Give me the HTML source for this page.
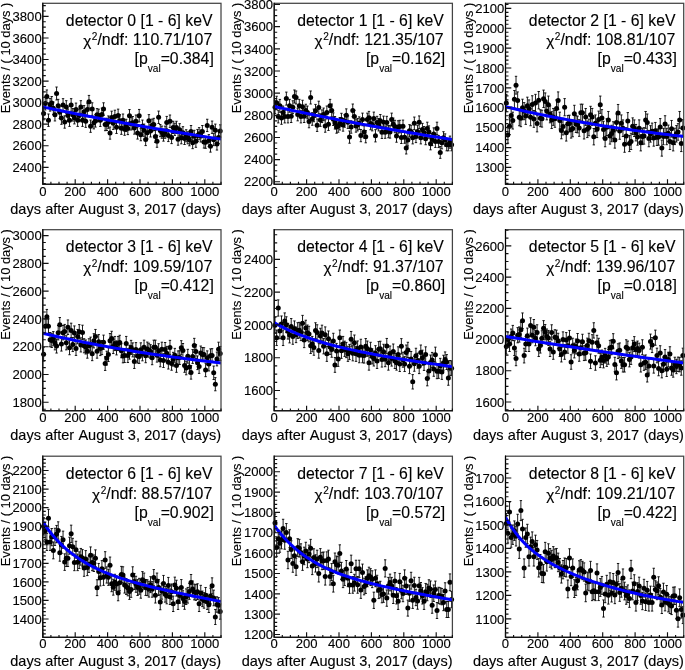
<!DOCTYPE html>
<html><head><meta charset="utf-8"><title>detector fits</title>
<style>html,body{margin:0;padding:0;background:#fff}svg{display:block}text{font-family:"Liberation Sans",sans-serif;fill:#000;stroke:#000;stroke-width:0.12px;font-kerning:none}</style></head><body>
<svg width="685" height="670" viewBox="0 0 685 670">
<rect width="685" height="670" fill="#fff"/>
<g id="panel0">
<path d="M43.61 107.33V119.87M42.41 107.33h2.4M42.41 119.87h2.4M45.23 97.23V109.97M44.03 97.23h2.4M44.03 109.97h2.4M46.85 89.96V102.84M45.65 89.96h2.4M45.65 102.84h2.4M48.47 114V126.4M47.27 114h2.4M47.27 126.4h2.4M50.09 98.38V111.1M48.89 98.38h2.4M48.89 111.1h2.4M51.71 96.53V109.27M50.51 96.53h2.4M50.51 109.27h2.4M53.33 101.99V114.63M52.13 101.99h2.4M52.13 114.63h2.4M54.95 108.44V120.96M53.75 108.44h2.4M53.75 120.96h2.4M56.57 87.03V99.97M55.37 87.03h2.4M55.37 99.97h2.4M58.19 99.35V112.05M56.99 99.35h2.4M56.99 112.05h2.4M59.81 105.95V118.51M58.61 105.95h2.4M58.61 118.51h2.4M61.43 111.88V124.32M60.23 111.88h2.4M60.23 124.32h2.4M63.05 98.65V111.35M61.85 98.65h2.4M61.85 111.35h2.4M64.67 115.82V128.18M63.47 115.82h2.4M63.47 128.18h2.4M66.29 100.67V113.33M65.09 100.67h2.4M65.09 113.33h2.4M67.91 109.15V121.65M66.71 109.15h2.4M66.71 121.65h2.4M69.53 114V126.4M68.33 114h2.4M68.33 126.4h2.4M71.15 98.65V111.35M69.95 98.65h2.4M69.95 111.35h2.4M72.77 108.54V121.05M71.57 108.54h2.4M71.57 121.05h2.4M74.39 111.46V123.91M73.19 111.46h2.4M73.19 123.91h2.4M76.01 103.09V115.71M74.81 103.09h2.4M74.81 115.71h2.4M77.63 114V126.4M76.43 114h2.4M76.43 126.4h2.4M79.25 109.14V121.63M78.05 109.14h2.4M78.05 121.63h2.4M80.87 100.67V113.33M79.67 100.67h2.4M79.67 113.33h2.4M82.49 114V126.4M81.29 114h2.4M81.29 126.4h2.4M84.11 105.59V118.16M82.91 105.59h2.4M82.91 118.16h2.4M85.73 115.01V127.39M84.53 115.01h2.4M84.53 127.39h2.4M87.35 103.09V115.71M86.15 103.09h2.4M86.15 115.71h2.4M88.97 95.42V108.18M87.77 95.42h2.4M87.77 108.18h2.4M90.59 120.06V132.34M89.39 120.06h2.4M89.39 132.34h2.4M92.21 102.79V115.41M91.01 102.79h2.4M91.01 115.41h2.4M93.83 116.53V128.88M92.63 116.53h2.4M92.63 128.88h2.4M95.45 114.71V127.09M94.25 114.71h2.4M94.25 127.09h2.4M97.07 108.61V121.12M95.87 108.61h2.4M95.87 121.12h2.4M98.69 109.17V121.67M97.49 109.17h2.4M97.49 121.67h2.4M100.31 114.05V126.45M99.11 114.05h2.4M99.11 126.45h2.4M101.93 108.14V120.66M100.73 108.14h2.4M100.73 120.66h2.4M103.55 102.79V115.41M102.35 102.79h2.4M102.35 115.41h2.4M105.17 118.38V130.69M103.97 118.38h2.4M103.97 130.69h2.4M106.79 118.22V130.53M105.59 118.22h2.4M105.59 130.53h2.4M108.41 115.93V128.29M107.21 115.93h2.4M107.21 128.29h2.4M110.03 127.03V139.17M108.83 127.03h2.4M108.83 139.17h2.4M111.65 111.17V123.63M110.45 111.17h2.4M110.45 123.63h2.4M113.27 117.1V129.44M112.07 117.1h2.4M112.07 129.44h2.4M114.89 110.21V122.69M113.69 110.21h2.4M113.69 122.69h2.4M116.51 121.19V133.45M115.31 121.19h2.4M115.31 133.45h2.4M118.13 109.15V121.65M116.93 109.15h2.4M116.93 121.65h2.4M119.75 114.67V127.05M118.55 114.67h2.4M118.55 127.05h2.4M121.37 122.09V134.33M120.17 122.09h2.4M120.17 134.33h2.4M122.99 114V126.4M121.79 114h2.4M121.79 126.4h2.4M124.61 123.09V135.31M123.41 123.09h2.4M123.41 135.31h2.4M126.23 119.27V131.56M125.03 119.27h2.4M125.03 131.56h2.4M127.85 122.38V134.62M126.65 122.38h2.4M126.65 134.62h2.4M129.47 109.55V122.05M128.27 109.55h2.4M128.27 122.05h2.4M131.09 117.69V130.01M129.89 117.69h2.4M129.89 130.01h2.4M132.71 116.49V128.84M131.51 116.49h2.4M131.51 128.84h2.4M134.33 121.91V134.15M133.13 121.91h2.4M133.13 134.15h2.4M135.95 115.01V127.39M134.75 115.01h2.4M134.75 127.39h2.4M137.57 126.93V139.07M136.37 126.93h2.4M136.37 139.07h2.4M139.19 109.45V121.95M137.99 109.45h2.4M137.99 121.95h2.4M140.81 128.65V140.75M139.61 128.65h2.4M139.61 140.75h2.4M142.43 120.07V132.35M141.23 120.07h2.4M141.23 132.35h2.4M144.05 124.1V136.3M142.85 124.1h2.4M142.85 136.3h2.4M145.67 133.6V145.6M144.47 133.6h2.4M144.47 145.6h2.4M147.29 126.73V138.88M146.09 126.73h2.4M146.09 138.88h2.4M148.91 114.61V126.99M147.71 114.61h2.4M147.71 126.99h2.4M150.53 124.81V136.99M149.33 124.81h2.4M149.33 136.99h2.4M152.15 119.11V131.41M150.95 119.11h2.4M150.95 131.41h2.4M153.77 118.31V130.63M152.57 118.31h2.4M152.57 130.63h2.4M155.39 130.47V142.53M154.19 130.47h2.4M154.19 142.53h2.4M157.01 135.32V147.28M155.81 135.32h2.4M155.81 147.28h2.4M158.63 111.07V123.53M157.43 111.07h2.4M157.43 123.53h2.4M160.25 124.49V136.68M159.05 124.49h2.4M159.05 136.68h2.4M161.87 126.09V138.25M160.67 126.09h2.4M160.67 138.25h2.4M163.49 129.05V141.15M162.29 129.05h2.4M162.29 141.15h2.4M165.11 126.13V138.29M163.91 126.13h2.4M163.91 138.29h2.4M166.73 116.42V128.78M165.53 116.42h2.4M165.53 128.78h2.4M168.35 129.48V141.57M167.15 129.48h2.4M167.15 141.57h2.4M169.97 115.01V127.39M168.77 115.01h2.4M168.77 127.39h2.4M171.59 131.58V143.62M170.39 131.58h2.4M170.39 143.62h2.4M173.21 121.27V133.53M172.01 121.27h2.4M172.01 133.53h2.4M174.83 123.19V135.41M173.63 123.19h2.4M173.63 135.41h2.4M176.45 121.27V133.53M175.25 121.27h2.4M175.25 133.53h2.4M178.07 133.2V145.2M176.87 133.2h2.4M176.87 145.2h2.4M179.69 123.67V135.87M178.49 123.67h2.4M178.49 135.87h2.4M181.31 131.78V143.82M180.11 131.78h2.4M180.11 143.82h2.4M182.93 126.68V138.82M181.73 126.68h2.4M181.73 138.82h2.4M184.55 132.49V144.51M183.35 132.49h2.4M183.35 144.51h2.4M186.17 129.74V141.83M184.97 129.74h2.4M184.97 141.83h2.4M187.79 131.78V143.82M186.59 131.78h2.4M186.59 143.82h2.4M189.41 133.81V145.8M188.21 133.81h2.4M188.21 145.8h2.4M191.03 125.52V137.68M189.83 125.52h2.4M189.83 137.68h2.4M192.65 136.73V148.67M191.45 136.73h2.4M191.45 148.67h2.4M194.27 130.31V142.38M193.07 130.31h2.4M193.07 142.38h2.4M195.89 135.32V147.28M194.69 135.32h2.4M194.69 147.28h2.4M197.51 129.44V141.52M196.31 129.44h2.4M196.31 141.52h2.4M199.13 127.64V139.76M197.93 127.64h2.4M197.93 139.76h2.4M200.75 129.95V142.03M199.55 129.95h2.4M199.55 142.03h2.4M202.37 125.52V137.68M201.17 125.52h2.4M201.17 137.68h2.4M203.99 136.13V148.07M202.79 136.13h2.4M202.79 148.07h2.4M205.61 136.38V148.32M204.41 136.38h2.4M204.41 148.32h2.4M207.23 119.25V131.55M206.03 119.25h2.4M206.03 131.55h2.4M208.85 134.61V146.59M207.65 134.61h2.4M207.65 146.59h2.4M210.47 140.27V152.13M209.27 140.27h2.4M209.27 152.13h2.4M212.09 121.07V133.33M210.89 121.07h2.4M210.89 133.33h2.4M213.71 133.65V145.65M212.51 133.65h2.4M212.51 145.65h2.4M215.33 124.1V136.3M214.13 124.1h2.4M214.13 136.3h2.4M216.95 138.15V150.05M215.75 138.15h2.4M215.75 150.05h2.4M218.57 131.6V143.64M217.37 131.6h2.4M217.37 143.64h2.4M220.19 124.81V136.99M218.99 124.81h2.4M218.99 136.99h2.4" stroke="#000" stroke-width="0.9" fill="none"/>
<g fill="#000"><circle cx="43.61" cy="113.6" r="2.5"/><circle cx="45.23" cy="103.6" r="2.5"/><circle cx="46.85" cy="96.4" r="2.5"/><circle cx="48.47" cy="120.2" r="2.5"/><circle cx="50.09" cy="104.74" r="2.5"/><circle cx="51.71" cy="102.9" r="2.5"/><circle cx="53.33" cy="108.31" r="2.5"/><circle cx="54.95" cy="114.7" r="2.5"/><circle cx="56.57" cy="93.5" r="2.5"/><circle cx="58.19" cy="105.7" r="2.5"/><circle cx="59.81" cy="112.23" r="2.5"/><circle cx="61.43" cy="118.1" r="2.5"/><circle cx="63.05" cy="105" r="2.5"/><circle cx="64.67" cy="122" r="2.5"/><circle cx="66.29" cy="107" r="2.5"/><circle cx="67.91" cy="115.4" r="2.5"/><circle cx="69.53" cy="120.2" r="2.5"/><circle cx="71.15" cy="105" r="2.5"/><circle cx="72.77" cy="114.79" r="2.5"/><circle cx="74.39" cy="117.68" r="2.5"/><circle cx="76.01" cy="109.4" r="2.5"/><circle cx="77.63" cy="120.2" r="2.5"/><circle cx="79.25" cy="115.39" r="2.5"/><circle cx="80.87" cy="107" r="2.5"/><circle cx="82.49" cy="120.2" r="2.5"/><circle cx="84.11" cy="111.87" r="2.5"/><circle cx="85.73" cy="121.2" r="2.5"/><circle cx="87.35" cy="109.4" r="2.5"/><circle cx="88.97" cy="101.8" r="2.5"/><circle cx="90.59" cy="126.2" r="2.5"/><circle cx="92.21" cy="109.1" r="2.5"/><circle cx="93.83" cy="122.71" r="2.5"/><circle cx="95.45" cy="120.9" r="2.5"/><circle cx="97.07" cy="114.86" r="2.5"/><circle cx="98.69" cy="115.42" r="2.5"/><circle cx="100.31" cy="120.25" r="2.5"/><circle cx="101.93" cy="114.4" r="2.5"/><circle cx="103.55" cy="109.1" r="2.5"/><circle cx="105.17" cy="124.53" r="2.5"/><circle cx="106.79" cy="124.38" r="2.5"/><circle cx="108.41" cy="122.11" r="2.5"/><circle cx="110.03" cy="133.1" r="2.5"/><circle cx="111.65" cy="117.4" r="2.5"/><circle cx="113.27" cy="123.27" r="2.5"/><circle cx="114.89" cy="116.45" r="2.5"/><circle cx="116.51" cy="127.32" r="2.5"/><circle cx="118.13" cy="115.4" r="2.5"/><circle cx="119.75" cy="120.86" r="2.5"/><circle cx="121.37" cy="128.21" r="2.5"/><circle cx="122.99" cy="120.2" r="2.5"/><circle cx="124.61" cy="129.2" r="2.5"/><circle cx="126.23" cy="125.42" r="2.5"/><circle cx="127.85" cy="128.5" r="2.5"/><circle cx="129.47" cy="115.8" r="2.5"/><circle cx="131.09" cy="123.85" r="2.5"/><circle cx="132.71" cy="122.66" r="2.5"/><circle cx="134.33" cy="128.03" r="2.5"/><circle cx="135.95" cy="121.2" r="2.5"/><circle cx="137.57" cy="133" r="2.5"/><circle cx="139.19" cy="115.7" r="2.5"/><circle cx="140.81" cy="134.7" r="2.5"/><circle cx="142.43" cy="126.21" r="2.5"/><circle cx="144.05" cy="130.2" r="2.5"/><circle cx="145.67" cy="139.6" r="2.5"/><circle cx="147.29" cy="132.8" r="2.5"/><circle cx="148.91" cy="120.8" r="2.5"/><circle cx="150.53" cy="130.9" r="2.5"/><circle cx="152.15" cy="125.26" r="2.5"/><circle cx="153.77" cy="124.47" r="2.5"/><circle cx="155.39" cy="136.5" r="2.5"/><circle cx="157.01" cy="141.3" r="2.5"/><circle cx="158.63" cy="117.3" r="2.5"/><circle cx="160.25" cy="130.58" r="2.5"/><circle cx="161.87" cy="132.17" r="2.5"/><circle cx="163.49" cy="135.1" r="2.5"/><circle cx="165.11" cy="132.21" r="2.5"/><circle cx="166.73" cy="122.6" r="2.5"/><circle cx="168.35" cy="135.53" r="2.5"/><circle cx="169.97" cy="121.2" r="2.5"/><circle cx="171.59" cy="137.6" r="2.5"/><circle cx="173.21" cy="127.4" r="2.5"/><circle cx="174.83" cy="129.3" r="2.5"/><circle cx="176.45" cy="127.4" r="2.5"/><circle cx="178.07" cy="139.2" r="2.5"/><circle cx="179.69" cy="129.77" r="2.5"/><circle cx="181.31" cy="137.8" r="2.5"/><circle cx="182.93" cy="132.75" r="2.5"/><circle cx="184.55" cy="138.5" r="2.5"/><circle cx="186.17" cy="135.78" r="2.5"/><circle cx="187.79" cy="137.8" r="2.5"/><circle cx="189.41" cy="139.81" r="2.5"/><circle cx="191.03" cy="131.6" r="2.5"/><circle cx="192.65" cy="142.7" r="2.5"/><circle cx="194.27" cy="136.35" r="2.5"/><circle cx="195.89" cy="141.3" r="2.5"/><circle cx="197.51" cy="135.48" r="2.5"/><circle cx="199.13" cy="133.7" r="2.5"/><circle cx="200.75" cy="135.99" r="2.5"/><circle cx="202.37" cy="131.6" r="2.5"/><circle cx="203.99" cy="142.1" r="2.5"/><circle cx="205.61" cy="142.35" r="2.5"/><circle cx="207.23" cy="125.4" r="2.5"/><circle cx="208.85" cy="140.6" r="2.5"/><circle cx="210.47" cy="146.2" r="2.5"/><circle cx="212.09" cy="127.2" r="2.5"/><circle cx="213.71" cy="139.65" r="2.5"/><circle cx="215.33" cy="130.2" r="2.5"/><circle cx="216.95" cy="144.1" r="2.5"/><circle cx="218.57" cy="137.62" r="2.5"/><circle cx="220.19" cy="130.9" r="2.5"/></g>
<clipPath id="c0"><rect x="42.8" y="3.3" width="178.2" height="180.9"/></clipPath>
<polyline clip-path="url(#c0)" points="42.8,106.93 46.04,107.62 49.28,108.3 52.52,108.98 55.76,109.66 59,110.33 62.24,111 65.48,111.66 68.72,112.32 71.96,112.98 75.2,113.63 78.44,114.28 81.68,114.92 84.92,115.56 88.16,116.19 91.4,116.83 94.64,117.45 97.88,118.08 101.12,118.7 104.36,119.31 107.6,119.93 110.84,120.53 114.08,121.14 117.32,121.74 120.56,122.34 123.8,122.93 127.04,123.52 130.28,124.11 133.52,124.69 136.76,125.27 140,125.85 143.24,126.42 146.48,126.99 149.72,127.55 152.96,128.11 156.2,128.67 159.44,129.23 162.68,129.78 165.92,130.32 169.16,130.87 172.4,131.41 175.64,131.95 178.88,132.48 182.12,133.01 185.36,133.54 188.6,134.07 191.84,134.59 195.08,135.11 198.32,135.62 201.56,136.13 204.8,136.64 208.04,137.15 211.28,137.65 214.52,138.15 217.76,138.64 221,139.14" fill="none" stroke="#0000ff" stroke-width="3.0"/>
<rect x="42.8" y="3.3" width="178.2" height="180.9" fill="none" stroke="#444" stroke-width="1.25"/>
<path d="M42.8 2.7V184.2M42.2 184.2H221.6" fill="none" stroke="#000" stroke-width="1.1"/>
<path d="M42.8 5.62h3.0M42.8 11.01h3.0M42.8 16.4h5.8M42.8 21.79h3.0M42.8 27.18h3.0M42.8 32.57h3.0M42.8 37.96h5.8M42.8 43.35h3.0M42.8 48.74h3.0M42.8 54.13h3.0M42.8 59.52h5.8M42.8 64.91h3.0M42.8 70.29h3.0M42.8 75.68h3.0M42.8 81.07h5.8M42.8 86.46h3.0M42.8 91.85h3.0M42.8 97.24h3.0M42.8 102.63h5.8M42.8 108.02h3.0M42.8 113.41h3.0M42.8 118.8h3.0M42.8 124.19h5.8M42.8 129.58h3.0M42.8 134.97h3.0M42.8 140.36h3.0M42.8 145.75h5.8M42.8 151.14h3.0M42.8 156.53h3.0M42.8 161.92h3.0M42.8 167.31h5.8M42.8 172.7h3.0M42.8 178.09h3.0M42.8 183.47h3.0M42.8 184.2v-5.0M50.9 184.2v-2.4M59 184.2v-2.4M67.1 184.2v-2.4M75.2 184.2v-5.0M83.3 184.2v-2.4M91.4 184.2v-2.4M99.5 184.2v-2.4M107.6 184.2v-5.0M115.7 184.2v-2.4M123.8 184.2v-2.4M131.9 184.2v-2.4M140 184.2v-5.0M148.1 184.2v-2.4M156.2 184.2v-2.4M164.3 184.2v-2.4M172.4 184.2v-5.0M180.5 184.2v-2.4M188.6 184.2v-2.4M196.7 184.2v-2.4M204.8 184.2v-5.0M212.9 184.2v-2.4M221 184.2v-2.4" stroke="#111" stroke-width="1.15" fill="none"/>
<g font-size="13.1" text-anchor="end">
<text x="41.7" y="21.1">3800</text>
<text x="41.7" y="42.66">3600</text>
<text x="41.7" y="64.22">3400</text>
<text x="41.7" y="85.77">3200</text>
<text x="41.7" y="107.33">3000</text>
<text x="41.7" y="128.89">2800</text>
<text x="41.7" y="150.45">2600</text>
<text x="41.7" y="172.01">2400</text>
</g>
<g font-size="13.1" text-anchor="middle">
<text x="42.8" y="196.05">0</text>
<text x="75.2" y="196.05">200</text>
<text x="107.6" y="196.05">400</text>
<text x="140" y="196.05">600</text>
<text x="172.4" y="196.05">800</text>
<text x="204.8" y="196.05">1000</text>
</g>
<text transform="translate(221.1 213.6) scale(1.046 1)" font-size="13.9" word-spacing="0.15" text-anchor="end">days after August 3, 2017 (days)</text>
<text transform="translate(9.9 2.7) rotate(-90)" font-size="12.85" text-anchor="end">Events / ( 10 days )</text>
<text x="212.5" y="25.6" font-size="15.8" text-anchor="end">detector 0 [1 - 6] keV</text>
<text x="212.3" y="44.9" font-size="15.9" text-anchor="end">/ndf: 110.71/107</text>
<text x="97.47" y="40" font-size="10.1" text-anchor="end">2</text>
<text transform="translate(91.27 46.3) scale(1.1 1)" font-size="14" text-anchor="end">χ</text>
<text x="213.8" y="63.8" font-size="15.8" text-anchor="end">=0.384]</text>
<text x="160.65" y="71.8" font-size="10.1" text-anchor="end">val</text>
<text x="147.74" y="63.8" font-size="15.8" text-anchor="end">[p</text>
</g>
<g id="panel1">
<path d="M275.01 100.79V113.61M273.81 100.79h2.4M273.81 113.61h2.4M276.63 96.24V109.16M275.43 96.24h2.4M275.43 109.16h2.4M278.25 110.28V122.92M277.05 110.28h2.4M277.05 122.92h2.4M279.87 99.4V112.25M278.67 99.4h2.4M278.67 112.25h2.4M281.49 111.7V124.3M280.29 111.7h2.4M280.29 124.3h2.4M283.11 106.04V118.76M281.91 106.04h2.4M281.91 118.76h2.4M284.73 110.28V122.92M283.53 110.28h2.4M283.53 122.92h2.4M286.35 92.1V105.1M285.15 92.1h2.4M285.15 105.1h2.4M287.97 110.28V122.92M286.77 110.28h2.4M286.77 122.92h2.4M289.59 99.37V112.23M288.39 99.37h2.4M288.39 112.23h2.4M291.21 109.88V122.52M290.01 109.88h2.4M290.01 122.52h2.4M292.83 100.79V113.61M291.63 100.79h2.4M291.63 113.61h2.4M294.45 89.98V103.02M293.25 89.98h2.4M293.25 103.02h2.4M296.07 90.99V104.01M294.87 90.99h2.4M294.87 104.01h2.4M297.69 108.16V120.84M296.49 108.16h2.4M296.49 120.84h2.4M299.31 99.37V112.23M298.11 99.37h2.4M298.11 112.23h2.4M300.93 110.28V122.92M299.73 110.28h2.4M299.73 122.92h2.4M302.55 100.26V113.09M301.35 100.26h2.4M301.35 113.09h2.4M304.17 109.88V122.52M302.97 109.88h2.4M302.97 122.52h2.4M305.79 104.24V117M304.59 104.24h2.4M304.59 117h2.4M307.41 106.05V118.77M306.21 106.05h2.4M306.21 118.77h2.4M309.03 115.23V127.77M307.83 115.23h2.4M307.83 127.77h2.4M310.65 90.99V104.01M309.45 90.99h2.4M309.45 104.01h2.4M312.27 112.68V125.27M311.07 112.68h2.4M311.07 125.27h2.4M313.89 109.07V121.73M312.69 109.07h2.4M312.69 121.73h2.4M315.51 104.42V117.18M314.31 104.42h2.4M314.31 117.18h2.4M317.13 118.97V131.43M315.93 118.97h2.4M315.93 131.43h2.4M318.75 101.19V114.01M317.55 101.19h2.4M317.55 114.01h2.4M320.37 113.82V126.38M319.17 113.82h2.4M319.17 126.38h2.4M321.99 109.91V122.56M320.79 109.91h2.4M320.79 122.56h2.4M323.61 108.07V120.75M322.41 108.07h2.4M322.41 120.75h2.4M325.23 119.78V132.22M324.03 119.78h2.4M324.03 132.22h2.4M326.85 106.04V118.76M325.65 106.04h2.4M325.65 118.76h2.4M328.47 117.96V130.44M327.27 117.96h2.4M327.27 130.44h2.4M330.09 99.37V112.23M328.89 99.37h2.4M328.89 112.23h2.4M331.71 104.02V116.78M330.51 104.02h2.4M330.51 116.78h2.4M333.33 112.9V125.49M332.13 112.9h2.4M332.13 125.49h2.4M334.95 116.54V129.06M333.75 116.54h2.4M333.75 129.06h2.4M336.57 120.79V133.21M335.37 120.79h2.4M335.37 133.21h2.4M338.19 119.78V132.22M336.99 119.78h2.4M336.99 132.22h2.4M339.81 117.52V130.01M338.61 117.52h2.4M338.61 130.01h2.4M341.43 113.29V125.86M340.23 113.29h2.4M340.23 125.86h2.4M343.05 118.69V131.16M341.85 118.69h2.4M341.85 131.16h2.4M344.67 114.67V127.21M343.47 114.67h2.4M343.47 127.21h2.4M346.29 108.87V121.53M345.09 108.87h2.4M345.09 121.53h2.4M347.91 115.89V128.41M346.71 115.89h2.4M346.71 128.41h2.4M349.53 130.99V143.21M348.33 130.99h2.4M348.33 143.21h2.4M351.15 120.79V133.21M349.95 120.79h2.4M349.95 133.21h2.4M352.77 104.02V116.78M351.57 104.02h2.4M351.57 116.78h2.4M354.39 110.28V122.92M353.19 110.28h2.4M353.19 122.92h2.4M356.01 119.71V132.15M354.81 119.71h2.4M354.81 132.15h2.4M357.63 118.46V130.93M356.43 118.46h2.4M356.43 130.93h2.4M359.25 116.89V129.39M358.05 116.89h2.4M358.05 129.39h2.4M360.87 129.48V141.72M359.67 129.48h2.4M359.67 141.72h2.4M362.49 113.11V125.69M361.29 113.11h2.4M361.29 125.69h2.4M364.11 125.74V138.06M362.91 125.74h2.4M362.91 138.06h2.4M365.73 130.59V142.81M364.53 130.59h2.4M364.53 142.81h2.4M367.35 113.13V125.71M366.15 113.13h2.4M366.15 125.71h2.4M368.97 111.39V124.01M367.77 111.39h2.4M367.77 124.01h2.4M370.59 117.24V129.74M369.39 117.24h2.4M369.39 129.74h2.4M372.21 118.39V130.86M371.01 118.39h2.4M371.01 130.86h2.4M373.83 112.1V124.7M372.63 112.1h2.4M372.63 124.7h2.4M375.45 129.68V141.92M374.25 129.68h2.4M374.25 141.92h2.4M377.07 116.34V128.86M375.87 116.34h2.4M375.87 128.86h2.4M378.69 118.46V130.93M377.49 118.46h2.4M377.49 130.93h2.4M380.31 114.52V127.08M379.11 114.52h2.4M379.11 127.08h2.4M381.93 126.14V138.46M380.73 126.14h2.4M380.73 138.46h2.4M383.55 116.11V128.63M382.35 116.11h2.4M382.35 128.63h2.4M385.17 125.99V138.3M383.97 125.99h2.4M383.97 138.3h2.4M386.79 116.34V128.86M385.59 116.34h2.4M385.59 128.86h2.4M388.41 125.44V137.76M387.21 125.44h2.4M387.21 137.76h2.4M390.03 125.82V138.14M388.83 125.82h2.4M388.83 138.14h2.4M391.65 113.11V125.69M390.45 113.11h2.4M390.45 125.69h2.4M393.27 118.07V130.54M392.07 118.07h2.4M392.07 130.54h2.4M394.89 120.31V132.74M393.69 120.31h2.4M393.69 132.74h2.4M396.51 129.99V142.22M395.31 129.99h2.4M395.31 142.22h2.4M398.13 120.77V133.19M396.93 120.77h2.4M396.93 133.19h2.4M399.75 120.3V132.73M398.55 120.3h2.4M398.55 132.73h2.4M401.37 131.3V143.5M400.17 131.3h2.4M400.17 143.5h2.4M402.99 120.08V132.52M401.79 120.08h2.4M401.79 132.52h2.4M404.61 131.12V143.32M403.41 131.12h2.4M403.41 143.32h2.4M406.23 142.01V153.99M405.03 142.01h2.4M405.03 153.99h2.4M407.85 133.82V145.98M406.65 133.82h2.4M406.65 145.98h2.4M409.47 124.63V136.98M408.27 124.63h2.4M408.27 136.98h2.4M411.09 125.26V137.59M409.89 125.26h2.4M409.89 137.59h2.4M412.71 131.7V143.9M411.51 131.7h2.4M411.51 143.9h2.4M414.33 117.05V129.55M413.13 117.05h2.4M413.13 129.55h2.4M415.95 130.39V142.61M414.75 130.39h2.4M414.75 142.61h2.4M417.57 125.34V137.67M416.37 125.34h2.4M416.37 137.67h2.4M419.19 115.94V128.46M417.99 115.94h2.4M417.99 128.46h2.4M420.81 131.7V143.9M419.61 131.7h2.4M419.61 143.9h2.4M422.43 123.39V135.76M421.23 123.39h2.4M421.23 135.76h2.4M424.05 126.52V138.82M422.85 126.52h2.4M422.85 138.82h2.4M425.67 132.55V144.73M424.47 132.55h2.4M424.47 144.73h2.4M427.29 122.2V134.6M426.09 122.2h2.4M426.09 134.6h2.4M428.91 125.89V138.21M427.71 125.89h2.4M427.71 138.21h2.4M430.53 137.77V149.83M429.33 137.77h2.4M429.33 149.83h2.4M432.15 133.47V145.63M430.95 133.47h2.4M430.95 145.63h2.4M433.77 127.84V140.11M432.57 127.84h2.4M432.57 140.11h2.4M435.39 135.32V147.44M434.19 135.32h2.4M434.19 147.44h2.4M437.01 122.2V134.6M435.81 122.2h2.4M435.81 134.6h2.4M438.63 135.45V147.56M437.43 135.45h2.4M437.43 147.56h2.4M440.25 146.46V158.34M439.05 146.46h2.4M439.05 158.34h2.4M441.87 136.76V148.85M440.67 136.76h2.4M440.67 148.85h2.4M443.49 131.7V143.9M442.29 131.7h2.4M442.29 143.9h2.4M445.11 133.87V146.02M443.91 133.87h2.4M443.91 146.02h2.4M446.73 138.78V150.82M445.53 138.78h2.4M445.53 150.82h2.4M448.35 138.78V150.82M447.15 138.78h2.4M447.15 150.82h2.4M449.97 136.1V148.2M448.77 136.1h2.4M448.77 148.2h2.4M451.59 138.78V150.82M450.39 138.78h2.4M450.39 150.82h2.4" stroke="#000" stroke-width="0.9" fill="none"/>
<g fill="#000"><circle cx="275.01" cy="107.2" r="2.5"/><circle cx="276.63" cy="102.7" r="2.5"/><circle cx="278.25" cy="116.6" r="2.5"/><circle cx="279.87" cy="105.83" r="2.5"/><circle cx="281.49" cy="118" r="2.5"/><circle cx="283.11" cy="112.4" r="2.5"/><circle cx="284.73" cy="116.6" r="2.5"/><circle cx="286.35" cy="98.6" r="2.5"/><circle cx="287.97" cy="116.6" r="2.5"/><circle cx="289.59" cy="105.8" r="2.5"/><circle cx="291.21" cy="116.2" r="2.5"/><circle cx="292.83" cy="107.2" r="2.5"/><circle cx="294.45" cy="96.5" r="2.5"/><circle cx="296.07" cy="97.5" r="2.5"/><circle cx="297.69" cy="114.5" r="2.5"/><circle cx="299.31" cy="105.8" r="2.5"/><circle cx="300.93" cy="116.6" r="2.5"/><circle cx="302.55" cy="106.67" r="2.5"/><circle cx="304.17" cy="116.2" r="2.5"/><circle cx="305.79" cy="110.62" r="2.5"/><circle cx="307.41" cy="112.41" r="2.5"/><circle cx="309.03" cy="121.5" r="2.5"/><circle cx="310.65" cy="97.5" r="2.5"/><circle cx="312.27" cy="118.98" r="2.5"/><circle cx="313.89" cy="115.4" r="2.5"/><circle cx="315.51" cy="110.8" r="2.5"/><circle cx="317.13" cy="125.2" r="2.5"/><circle cx="318.75" cy="107.6" r="2.5"/><circle cx="320.37" cy="120.1" r="2.5"/><circle cx="321.99" cy="116.24" r="2.5"/><circle cx="323.61" cy="114.41" r="2.5"/><circle cx="325.23" cy="126" r="2.5"/><circle cx="326.85" cy="112.4" r="2.5"/><circle cx="328.47" cy="124.2" r="2.5"/><circle cx="330.09" cy="105.8" r="2.5"/><circle cx="331.71" cy="110.4" r="2.5"/><circle cx="333.33" cy="119.19" r="2.5"/><circle cx="334.95" cy="122.8" r="2.5"/><circle cx="336.57" cy="127" r="2.5"/><circle cx="338.19" cy="126" r="2.5"/><circle cx="339.81" cy="123.76" r="2.5"/><circle cx="341.43" cy="119.58" r="2.5"/><circle cx="343.05" cy="124.93" r="2.5"/><circle cx="344.67" cy="120.94" r="2.5"/><circle cx="346.29" cy="115.2" r="2.5"/><circle cx="347.91" cy="122.15" r="2.5"/><circle cx="349.53" cy="137.1" r="2.5"/><circle cx="351.15" cy="127" r="2.5"/><circle cx="352.77" cy="110.4" r="2.5"/><circle cx="354.39" cy="116.6" r="2.5"/><circle cx="356.01" cy="125.93" r="2.5"/><circle cx="357.63" cy="124.69" r="2.5"/><circle cx="359.25" cy="123.14" r="2.5"/><circle cx="360.87" cy="135.6" r="2.5"/><circle cx="362.49" cy="119.4" r="2.5"/><circle cx="364.11" cy="131.9" r="2.5"/><circle cx="365.73" cy="136.7" r="2.5"/><circle cx="367.35" cy="119.42" r="2.5"/><circle cx="368.97" cy="117.7" r="2.5"/><circle cx="370.59" cy="123.49" r="2.5"/><circle cx="372.21" cy="124.63" r="2.5"/><circle cx="373.83" cy="118.4" r="2.5"/><circle cx="375.45" cy="135.8" r="2.5"/><circle cx="377.07" cy="122.6" r="2.5"/><circle cx="378.69" cy="124.7" r="2.5"/><circle cx="380.31" cy="120.8" r="2.5"/><circle cx="381.93" cy="132.3" r="2.5"/><circle cx="383.55" cy="122.37" r="2.5"/><circle cx="385.17" cy="132.15" r="2.5"/><circle cx="386.79" cy="122.6" r="2.5"/><circle cx="388.41" cy="131.6" r="2.5"/><circle cx="390.03" cy="131.98" r="2.5"/><circle cx="391.65" cy="119.4" r="2.5"/><circle cx="393.27" cy="124.3" r="2.5"/><circle cx="394.89" cy="126.53" r="2.5"/><circle cx="396.51" cy="136.1" r="2.5"/><circle cx="398.13" cy="126.98" r="2.5"/><circle cx="399.75" cy="126.52" r="2.5"/><circle cx="401.37" cy="137.4" r="2.5"/><circle cx="402.99" cy="126.3" r="2.5"/><circle cx="404.61" cy="137.22" r="2.5"/><circle cx="406.23" cy="148" r="2.5"/><circle cx="407.85" cy="139.9" r="2.5"/><circle cx="409.47" cy="130.81" r="2.5"/><circle cx="411.09" cy="131.43" r="2.5"/><circle cx="412.71" cy="137.8" r="2.5"/><circle cx="414.33" cy="123.3" r="2.5"/><circle cx="415.95" cy="136.5" r="2.5"/><circle cx="417.57" cy="131.5" r="2.5"/><circle cx="419.19" cy="122.2" r="2.5"/><circle cx="420.81" cy="137.8" r="2.5"/><circle cx="422.43" cy="129.58" r="2.5"/><circle cx="424.05" cy="132.67" r="2.5"/><circle cx="425.67" cy="138.64" r="2.5"/><circle cx="427.29" cy="128.4" r="2.5"/><circle cx="428.91" cy="132.05" r="2.5"/><circle cx="430.53" cy="143.8" r="2.5"/><circle cx="432.15" cy="139.55" r="2.5"/><circle cx="433.77" cy="133.97" r="2.5"/><circle cx="435.39" cy="141.38" r="2.5"/><circle cx="437.01" cy="128.4" r="2.5"/><circle cx="438.63" cy="141.51" r="2.5"/><circle cx="440.25" cy="152.4" r="2.5"/><circle cx="441.87" cy="142.8" r="2.5"/><circle cx="443.49" cy="137.8" r="2.5"/><circle cx="445.11" cy="139.95" r="2.5"/><circle cx="446.73" cy="144.8" r="2.5"/><circle cx="448.35" cy="144.8" r="2.5"/><circle cx="449.97" cy="142.15" r="2.5"/><circle cx="451.59" cy="144.8" r="2.5"/></g>
<clipPath id="c1"><rect x="274.2" y="3.3" width="178.2" height="180.9"/></clipPath>
<polyline clip-path="url(#c1)" points="274.2,106.54 277.44,107.24 280.68,107.94 283.92,108.64 287.16,109.33 290.4,110.02 293.64,110.7 296.88,111.38 300.12,112.06 303.36,112.73 306.6,113.4 309.84,114.06 313.08,114.72 316.32,115.38 319.56,116.03 322.8,116.67 326.04,117.32 329.28,117.96 332.52,118.59 335.76,119.22 339,119.85 342.24,120.48 345.48,121.1 348.72,121.71 351.96,122.33 355.2,122.93 358.44,123.54 361.68,124.14 364.92,124.74 368.16,125.33 371.4,125.92 374.64,126.51 377.88,127.1 381.12,127.68 384.36,128.25 387.6,128.83 390.84,129.4 394.08,129.96 397.32,130.52 400.56,131.08 403.8,131.64 407.04,132.19 410.28,132.74 413.52,133.29 416.76,133.83 420,134.37 423.24,134.91 426.48,135.44 429.72,135.97 432.96,136.49 436.2,137.02 439.44,137.54 442.68,138.05 445.92,138.57 449.16,139.08 452.4,139.59" fill="none" stroke="#0000ff" stroke-width="3.0"/>
<rect x="274.2" y="3.3" width="178.2" height="180.9" fill="none" stroke="#444" stroke-width="1.25"/>
<path d="M274.2 2.7V184.2M273.6 184.2H453" fill="none" stroke="#000" stroke-width="1.1"/>
<path d="M274.2 4.5h5.8M274.2 10.04h3.0M274.2 15.58h3.0M274.2 21.12h3.0M274.2 26.66h5.8M274.2 32.2h3.0M274.2 37.74h3.0M274.2 43.28h3.0M274.2 48.82h5.8M274.2 54.36h3.0M274.2 59.9h3.0M274.2 65.44h3.0M274.2 70.98h5.8M274.2 76.52h3.0M274.2 82.06h3.0M274.2 87.6h3.0M274.2 93.14h5.8M274.2 98.68h3.0M274.2 104.22h3.0M274.2 109.76h3.0M274.2 115.3h5.8M274.2 120.84h3.0M274.2 126.38h3.0M274.2 131.92h3.0M274.2 137.46h5.8M274.2 143h3.0M274.2 148.54h3.0M274.2 154.08h3.0M274.2 159.62h5.8M274.2 165.16h3.0M274.2 170.7h3.0M274.2 176.24h3.0M274.2 181.78h5.8M274.2 184.2v-5.0M282.3 184.2v-2.4M290.4 184.2v-2.4M298.5 184.2v-2.4M306.6 184.2v-5.0M314.7 184.2v-2.4M322.8 184.2v-2.4M330.9 184.2v-2.4M339 184.2v-5.0M347.1 184.2v-2.4M355.2 184.2v-2.4M363.3 184.2v-2.4M371.4 184.2v-5.0M379.5 184.2v-2.4M387.6 184.2v-2.4M395.7 184.2v-2.4M403.8 184.2v-5.0M411.9 184.2v-2.4M420 184.2v-2.4M428.1 184.2v-2.4M436.2 184.2v-5.0M444.3 184.2v-2.4M452.4 184.2v-2.4" stroke="#111" stroke-width="1.15" fill="none"/>
<g font-size="13.1" text-anchor="end">
<text x="273.1" y="9.2">3800</text>
<text x="273.1" y="31.36">3600</text>
<text x="273.1" y="53.52">3400</text>
<text x="273.1" y="75.68">3200</text>
<text x="273.1" y="97.84">3000</text>
<text x="273.1" y="120">2800</text>
<text x="273.1" y="142.16">2600</text>
<text x="273.1" y="164.32">2400</text>
<text x="273.1" y="186.48">2200</text>
</g>
<g font-size="13.1" text-anchor="middle">
<text x="274.2" y="196.05">0</text>
<text x="306.6" y="196.05">200</text>
<text x="339" y="196.05">400</text>
<text x="371.4" y="196.05">600</text>
<text x="403.8" y="196.05">800</text>
<text x="436.2" y="196.05">1000</text>
</g>
<text transform="translate(452.5 213.6) scale(1.046 1)" font-size="13.9" word-spacing="0.15" text-anchor="end">days after August 3, 2017 (days)</text>
<text transform="translate(241.3 2.7) rotate(-90)" font-size="12.85" text-anchor="end">Events / ( 10 days )</text>
<text x="443.9" y="25.6" font-size="15.8" text-anchor="end">detector 1 [1 - 6] keV</text>
<text x="443.7" y="44.9" font-size="15.9" text-anchor="end">/ndf: 121.35/107</text>
<text x="328.87" y="40" font-size="10.1" text-anchor="end">2</text>
<text transform="translate(322.67 46.3) scale(1.1 1)" font-size="14" text-anchor="end">χ</text>
<text x="445.2" y="63.8" font-size="15.8" text-anchor="end">=0.162]</text>
<text x="392.05" y="71.8" font-size="10.1" text-anchor="end">val</text>
<text x="379.14" y="63.8" font-size="15.8" text-anchor="end">[p</text>
</g>
<g id="panel2">
<path d="M506.31 94.35V111.65M505.11 94.35h2.4M505.11 111.65h2.4M507.93 126.68V143.12M506.73 126.68h2.4M506.73 143.12h2.4M509.55 117.86V134.54M508.35 117.86h2.4M508.35 134.54h2.4M511.17 107.01V123.99M509.97 107.01h2.4M509.97 123.99h2.4M512.79 112.18V129.02M511.59 112.18h2.4M511.59 129.02h2.4M514.41 90.5V107.9M513.21 90.5h2.4M513.21 107.9h2.4M516.03 76.31V94.09M514.83 76.31h2.4M514.83 94.09h2.4M517.65 91.91V109.29M516.45 91.91h2.4M516.45 109.29h2.4M519.27 108.84V125.76M518.07 108.84h2.4M518.07 125.76h2.4M520.89 109.81V126.7M519.69 109.81h2.4M519.69 126.7h2.4M522.51 99.21V116.39M521.31 99.21h2.4M521.31 116.39h2.4M524.13 102.63V119.72M522.93 102.63h2.4M522.93 119.72h2.4M525.75 107.42V124.38M524.55 107.42h2.4M524.55 124.38h2.4M527.37 97.18V114.42M526.17 97.18h2.4M526.17 114.42h2.4M528.99 99.92V117.08M527.79 99.92h2.4M527.79 117.08h2.4M530.61 108.84V125.76M529.41 108.84h2.4M529.41 125.76h2.4M532.23 95.76V113.04M531.03 95.76h2.4M531.03 113.04h2.4M533.85 110.46V127.34M532.65 110.46h2.4M532.65 127.34h2.4M535.47 94.35V111.65M534.27 94.35h2.4M534.27 111.65h2.4M537.09 115.13V131.87M535.89 115.13h2.4M535.89 131.87h2.4M538.71 91.51V108.89M537.51 91.51h2.4M537.51 108.89h2.4M540.33 109.75V126.65M539.13 109.75h2.4M539.13 126.65h2.4M541.95 110.22V127.1M540.75 110.22h2.4M540.75 127.1h2.4M543.57 90.09V107.51M542.37 90.09h2.4M542.37 107.51h2.4M545.19 92.93V110.27M543.99 92.93h2.4M543.99 110.27h2.4M546.81 102.76V119.84M545.61 102.76h2.4M545.61 119.84h2.4M548.43 96.07V113.33M547.23 96.07h2.4M547.23 113.33h2.4M550.05 105.81V122.82M548.85 105.81h2.4M548.85 122.82h2.4M551.67 111.68V128.52M550.47 111.68h2.4M550.47 128.52h2.4M553.29 108.43V125.36M552.09 108.43h2.4M552.09 125.36h2.4M554.91 110.39V127.27M553.71 110.39h2.4M553.71 127.27h2.4M556.53 99.92V117.08M555.33 99.92h2.4M555.33 117.08h2.4M558.15 91.91V109.29M556.95 91.91h2.4M556.95 109.29h2.4M559.77 112.18V129.02M558.57 112.18h2.4M558.57 129.02h2.4M561.39 122.22V138.78M560.19 122.22h2.4M560.19 138.78h2.4M563.01 118.27V134.93M561.81 118.27h2.4M561.81 134.93h2.4M564.63 98.6V115.8M563.43 98.6h2.4M563.43 115.8h2.4M566.25 124.55V141.05M565.05 124.55h2.4M565.05 141.05h2.4M567.87 115.43V132.17M566.67 115.43h2.4M566.67 132.17h2.4M569.49 115.19V131.94M568.29 115.19h2.4M568.29 131.94h2.4M571.11 121.51V138.09M569.91 121.51h2.4M569.91 138.09h2.4M572.73 120.13V136.75M571.53 120.13h2.4M571.53 136.75h2.4M574.35 105.29V122.31M573.15 105.29h2.4M573.15 122.31h2.4M575.97 115.75V132.48M574.77 115.75h2.4M574.77 132.48h2.4M577.59 116.14V132.86M576.39 116.14h2.4M576.39 132.86h2.4M579.21 119.69V136.31M578.01 119.69h2.4M578.01 136.31h2.4M580.83 104.18V121.22M579.63 104.18h2.4M579.63 121.22h2.4M582.45 104.18V121.22M581.25 104.18h2.4M581.25 121.22h2.4M584.07 122.43V138.97M582.87 122.43h2.4M582.87 138.97h2.4M585.69 108.49V125.42M584.49 108.49h2.4M584.49 125.42h2.4M587.31 121.01V137.59M586.11 121.01h2.4M586.11 137.59h2.4M588.93 119.12V135.76M587.73 119.12h2.4M587.73 135.76h2.4M590.55 106.31V123.29M589.35 106.31h2.4M589.35 123.29h2.4M592.17 108.43V125.37M590.97 108.43h2.4M590.97 125.37h2.4M593.79 128.51V144.89M592.59 128.51h2.4M592.59 144.89h2.4M595.41 114.95V131.7M594.21 114.95h2.4M594.21 131.7h2.4M597.03 121.01V137.59M595.83 121.01h2.4M595.83 137.59h2.4M598.65 111.1V127.96M597.45 111.1h2.4M597.45 127.96h2.4M600.27 96.07V113.33M599.07 96.07h2.4M599.07 113.33h2.4M601.89 109.65V126.55M600.69 109.65h2.4M600.69 126.55h2.4M603.51 121.31V137.89M602.31 121.31h2.4M602.31 137.89h2.4M605.13 130.44V146.76M603.93 130.44h2.4M603.93 146.76h2.4M606.75 118.86V135.51M605.55 118.86h2.4M605.55 135.51h2.4M608.37 111.48V128.32M607.17 111.48h2.4M607.17 128.32h2.4M609.99 127.7V144.1M608.79 127.7h2.4M608.79 144.1h2.4M611.61 125.29V141.76M610.41 125.29h2.4M610.41 141.76h2.4M613.23 121.75V138.32M612.03 121.75h2.4M612.03 138.32h2.4M614.85 131.86V148.14M613.65 131.86h2.4M613.65 148.14h2.4M616.47 114.01V130.79M615.27 114.01h2.4M615.27 130.79h2.4M618.09 104.48V121.52M616.89 104.48h2.4M616.89 121.52h2.4M619.71 122.73V139.27M618.51 122.73h2.4M618.51 139.27h2.4M621.33 114.92V131.67M620.13 114.92h2.4M620.13 131.67h2.4M622.95 119.92V136.54M621.75 119.92h2.4M621.75 136.54h2.4M624.57 136.12V152.28M623.37 136.12h2.4M623.37 152.28h2.4M626.19 127.7V144.1M624.99 127.7h2.4M624.99 144.1h2.4M627.81 112.59V129.41M626.61 112.59h2.4M626.61 129.41h2.4M629.43 135.41V151.59M628.23 135.41h2.4M628.23 151.59h2.4M631.05 133.28V149.52M629.85 133.28h2.4M629.85 149.52h2.4M632.67 117.86V134.54M631.47 117.86h2.4M631.47 134.54h2.4M634.29 119.9V136.52M633.09 119.9h2.4M633.09 136.52h2.4M635.91 124.44V140.93M634.71 124.44h2.4M634.71 140.93h2.4M637.53 128.81V145.19M636.33 128.81h2.4M636.33 145.19h2.4M639.15 119.89V136.51M637.95 119.89h2.4M637.95 136.51h2.4M640.77 134.7V150.9M639.57 134.7h2.4M639.57 150.9h2.4M642.39 128.21V144.59M641.19 128.21h2.4M641.19 144.59h2.4M644.01 127.7V144.1M642.81 127.7h2.4M642.81 144.1h2.4M645.63 111.48V128.32M644.43 111.48h2.4M644.43 128.32h2.4M647.25 114.01V130.79M646.05 114.01h2.4M646.05 130.79h2.4M648.87 130.42V146.75M647.67 130.42h2.4M647.67 146.75h2.4M650.49 125.67V142.13M649.29 125.67h2.4M649.29 142.13h2.4M652.11 123.09V139.63M650.91 123.09h2.4M650.91 139.63h2.4M653.73 129.83V146.17M652.53 129.83h2.4M652.53 146.17h2.4M655.35 122.45V139M654.15 122.45h2.4M654.15 139h2.4M656.97 129.12V145.48M655.77 129.12h2.4M655.77 145.48h2.4M658.59 128.82V145.19M657.39 128.82h2.4M657.39 145.19h2.4M660.21 118.57V135.23M659.01 118.57h2.4M659.01 135.23h2.4M661.83 140.07V156.13M660.63 140.07h2.4M660.63 156.13h2.4M663.45 128.35V144.73M662.25 128.35h2.4M662.25 144.73h2.4M665.07 115.73V132.47M663.87 115.73h2.4M663.87 132.47h2.4M666.69 128.3V144.69M665.49 128.3h2.4M665.49 144.69h2.4M668.31 125.08V141.56M667.11 125.08h2.4M667.11 141.56h2.4M669.93 133.28V149.52M668.73 133.28h2.4M668.73 149.52h2.4M671.55 120.48V137.08M670.35 120.48h2.4M670.35 137.08h2.4M673.17 134.7V150.9M671.97 134.7h2.4M671.97 150.9h2.4M674.79 128.19V144.58M673.59 128.19h2.4M673.59 144.58h2.4M676.41 125.57V142.03M675.21 125.57h2.4M675.21 142.03h2.4M678.03 123.68V140.2M676.83 123.68h2.4M676.83 140.2h2.4M679.65 111.48V128.32M678.45 111.48h2.4M678.45 128.32h2.4M681.27 135.41V151.59M680.07 135.41h2.4M680.07 151.59h2.4M682.89 119.69V136.31M681.69 119.69h2.4M681.69 136.31h2.4" stroke="#000" stroke-width="0.9" fill="none"/>
<g fill="#000"><circle cx="506.31" cy="103" r="2.5"/><circle cx="507.93" cy="134.9" r="2.5"/><circle cx="509.55" cy="126.2" r="2.5"/><circle cx="511.17" cy="115.5" r="2.5"/><circle cx="512.79" cy="120.6" r="2.5"/><circle cx="514.41" cy="99.2" r="2.5"/><circle cx="516.03" cy="85.2" r="2.5"/><circle cx="517.65" cy="100.6" r="2.5"/><circle cx="519.27" cy="117.3" r="2.5"/><circle cx="520.89" cy="118.26" r="2.5"/><circle cx="522.51" cy="107.8" r="2.5"/><circle cx="524.13" cy="111.17" r="2.5"/><circle cx="525.75" cy="115.9" r="2.5"/><circle cx="527.37" cy="105.8" r="2.5"/><circle cx="528.99" cy="108.5" r="2.5"/><circle cx="530.61" cy="117.3" r="2.5"/><circle cx="532.23" cy="104.4" r="2.5"/><circle cx="533.85" cy="118.9" r="2.5"/><circle cx="535.47" cy="103" r="2.5"/><circle cx="537.09" cy="123.5" r="2.5"/><circle cx="538.71" cy="100.2" r="2.5"/><circle cx="540.33" cy="118.2" r="2.5"/><circle cx="541.95" cy="118.66" r="2.5"/><circle cx="543.57" cy="98.8" r="2.5"/><circle cx="545.19" cy="101.6" r="2.5"/><circle cx="546.81" cy="111.3" r="2.5"/><circle cx="548.43" cy="104.7" r="2.5"/><circle cx="550.05" cy="114.31" r="2.5"/><circle cx="551.67" cy="120.1" r="2.5"/><circle cx="553.29" cy="116.89" r="2.5"/><circle cx="554.91" cy="118.83" r="2.5"/><circle cx="556.53" cy="108.5" r="2.5"/><circle cx="558.15" cy="100.6" r="2.5"/><circle cx="559.77" cy="120.6" r="2.5"/><circle cx="561.39" cy="130.5" r="2.5"/><circle cx="563.01" cy="126.6" r="2.5"/><circle cx="564.63" cy="107.2" r="2.5"/><circle cx="566.25" cy="132.8" r="2.5"/><circle cx="567.87" cy="123.8" r="2.5"/><circle cx="569.49" cy="123.57" r="2.5"/><circle cx="571.11" cy="129.8" r="2.5"/><circle cx="572.73" cy="128.44" r="2.5"/><circle cx="574.35" cy="113.8" r="2.5"/><circle cx="575.97" cy="124.12" r="2.5"/><circle cx="577.59" cy="124.5" r="2.5"/><circle cx="579.21" cy="128" r="2.5"/><circle cx="580.83" cy="112.7" r="2.5"/><circle cx="582.45" cy="112.7" r="2.5"/><circle cx="584.07" cy="130.7" r="2.5"/><circle cx="585.69" cy="116.96" r="2.5"/><circle cx="587.31" cy="129.3" r="2.5"/><circle cx="588.93" cy="127.44" r="2.5"/><circle cx="590.55" cy="114.8" r="2.5"/><circle cx="592.17" cy="116.9" r="2.5"/><circle cx="593.79" cy="136.7" r="2.5"/><circle cx="595.41" cy="123.33" r="2.5"/><circle cx="597.03" cy="129.3" r="2.5"/><circle cx="598.65" cy="119.53" r="2.5"/><circle cx="600.27" cy="104.7" r="2.5"/><circle cx="601.89" cy="118.1" r="2.5"/><circle cx="603.51" cy="129.6" r="2.5"/><circle cx="605.13" cy="138.6" r="2.5"/><circle cx="606.75" cy="127.19" r="2.5"/><circle cx="608.37" cy="119.9" r="2.5"/><circle cx="609.99" cy="135.9" r="2.5"/><circle cx="611.61" cy="133.52" r="2.5"/><circle cx="613.23" cy="130.03" r="2.5"/><circle cx="614.85" cy="140" r="2.5"/><circle cx="616.47" cy="122.4" r="2.5"/><circle cx="618.09" cy="113" r="2.5"/><circle cx="619.71" cy="131" r="2.5"/><circle cx="621.33" cy="123.3" r="2.5"/><circle cx="622.95" cy="128.23" r="2.5"/><circle cx="624.57" cy="144.2" r="2.5"/><circle cx="626.19" cy="135.9" r="2.5"/><circle cx="627.81" cy="121" r="2.5"/><circle cx="629.43" cy="143.5" r="2.5"/><circle cx="631.05" cy="141.4" r="2.5"/><circle cx="632.67" cy="126.2" r="2.5"/><circle cx="634.29" cy="128.21" r="2.5"/><circle cx="635.91" cy="132.69" r="2.5"/><circle cx="637.53" cy="137" r="2.5"/><circle cx="639.15" cy="128.2" r="2.5"/><circle cx="640.77" cy="142.8" r="2.5"/><circle cx="642.39" cy="136.4" r="2.5"/><circle cx="644.01" cy="135.9" r="2.5"/><circle cx="645.63" cy="119.9" r="2.5"/><circle cx="647.25" cy="122.4" r="2.5"/><circle cx="648.87" cy="138.58" r="2.5"/><circle cx="650.49" cy="133.9" r="2.5"/><circle cx="652.11" cy="131.36" r="2.5"/><circle cx="653.73" cy="138" r="2.5"/><circle cx="655.35" cy="130.72" r="2.5"/><circle cx="656.97" cy="137.3" r="2.5"/><circle cx="658.59" cy="137" r="2.5"/><circle cx="660.21" cy="126.9" r="2.5"/><circle cx="661.83" cy="148.1" r="2.5"/><circle cx="663.45" cy="136.54" r="2.5"/><circle cx="665.07" cy="124.1" r="2.5"/><circle cx="666.69" cy="136.49" r="2.5"/><circle cx="668.31" cy="133.32" r="2.5"/><circle cx="669.93" cy="141.4" r="2.5"/><circle cx="671.55" cy="128.78" r="2.5"/><circle cx="673.17" cy="142.8" r="2.5"/><circle cx="674.79" cy="136.38" r="2.5"/><circle cx="676.41" cy="133.8" r="2.5"/><circle cx="678.03" cy="131.94" r="2.5"/><circle cx="679.65" cy="119.9" r="2.5"/><circle cx="681.27" cy="143.5" r="2.5"/><circle cx="682.89" cy="128" r="2.5"/></g>
<clipPath id="c2"><rect x="505.5" y="3.3" width="178.2" height="180.9"/></clipPath>
<polyline clip-path="url(#c2)" points="505.5,106.82 508.74,107.58 511.98,108.33 515.22,109.07 518.46,109.79 521.7,110.51 524.94,111.22 528.18,111.92 531.42,112.61 534.66,113.3 537.9,113.97 541.14,114.63 544.38,115.29 547.62,115.93 550.86,116.57 554.1,117.2 557.34,117.82 560.58,118.43 563.82,119.03 567.06,119.63 570.3,120.21 573.54,120.79 576.78,121.36 580.02,121.93 583.26,122.48 586.5,123.03 589.74,123.58 592.98,124.11 596.22,124.64 599.46,125.16 602.7,125.67 605.94,126.18 609.18,126.68 612.42,127.17 615.66,127.65 618.9,128.13 622.14,128.61 625.38,129.07 628.62,129.53 631.86,129.99 635.1,130.44 638.34,130.88 641.58,131.31 644.82,131.75 648.06,132.17 651.3,132.59 654.54,133 657.78,133.41 661.02,133.81 664.26,134.21 667.5,134.6 670.74,134.99 673.98,135.37 677.22,135.74 680.46,136.11 683.7,136.48" fill="none" stroke="#0000ff" stroke-width="3.0"/>
<rect x="505.5" y="3.3" width="178.2" height="180.9" fill="none" stroke="#444" stroke-width="1.25"/>
<path d="M505.5 2.7V184.2M504.9 184.2H684.3" fill="none" stroke="#000" stroke-width="1.1"/>
<path d="M505.5 4.38h3.0M505.5 8.36h5.8M505.5 12.34h3.0M505.5 16.31h3.0M505.5 20.29h3.0M505.5 24.27h3.0M505.5 28.24h5.8M505.5 32.22h3.0M505.5 36.2h3.0M505.5 40.17h3.0M505.5 44.15h3.0M505.5 48.13h5.8M505.5 52.1h3.0M505.5 56.08h3.0M505.5 60.06h3.0M505.5 64.04h3.0M505.5 68.01h5.8M505.5 71.99h3.0M505.5 75.97h3.0M505.5 79.94h3.0M505.5 83.92h3.0M505.5 87.9h5.8M505.5 91.87h3.0M505.5 95.85h3.0M505.5 99.83h3.0M505.5 103.8h3.0M505.5 107.78h5.8M505.5 111.76h3.0M505.5 115.73h3.0M505.5 119.71h3.0M505.5 123.69h3.0M505.5 127.66h5.8M505.5 131.64h3.0M505.5 135.62h3.0M505.5 139.59h3.0M505.5 143.57h3.0M505.5 147.55h5.8M505.5 151.52h3.0M505.5 155.5h3.0M505.5 159.48h3.0M505.5 163.46h3.0M505.5 167.43h5.8M505.5 171.41h3.0M505.5 175.39h3.0M505.5 179.36h3.0M505.5 183.34h3.0M505.5 184.2v-5.0M513.6 184.2v-2.4M521.7 184.2v-2.4M529.8 184.2v-2.4M537.9 184.2v-5.0M546 184.2v-2.4M554.1 184.2v-2.4M562.2 184.2v-2.4M570.3 184.2v-5.0M578.4 184.2v-2.4M586.5 184.2v-2.4M594.6 184.2v-2.4M602.7 184.2v-5.0M610.8 184.2v-2.4M618.9 184.2v-2.4M627 184.2v-2.4M635.1 184.2v-5.0M643.2 184.2v-2.4M651.3 184.2v-2.4M659.4 184.2v-2.4M667.5 184.2v-5.0M675.6 184.2v-2.4M683.7 184.2v-2.4" stroke="#111" stroke-width="1.15" fill="none"/>
<g font-size="13.1" text-anchor="end">
<text x="504.4" y="13.06">2100</text>
<text x="504.4" y="32.94">2000</text>
<text x="504.4" y="52.83">1900</text>
<text x="504.4" y="72.71">1800</text>
<text x="504.4" y="92.6">1700</text>
<text x="504.4" y="112.48">1600</text>
<text x="504.4" y="132.36">1500</text>
<text x="504.4" y="152.25">1400</text>
<text x="504.4" y="172.13">1300</text>
</g>
<g font-size="13.1" text-anchor="middle">
<text x="505.5" y="196.05">0</text>
<text x="537.9" y="196.05">200</text>
<text x="570.3" y="196.05">400</text>
<text x="602.7" y="196.05">600</text>
<text x="635.1" y="196.05">800</text>
<text x="667.5" y="196.05">1000</text>
</g>
<text transform="translate(683.8 213.6) scale(1.046 1)" font-size="13.9" word-spacing="0.15" text-anchor="end">days after August 3, 2017 (days)</text>
<text transform="translate(472.6 2.7) rotate(-90)" font-size="12.85" text-anchor="end">Events / ( 10 days )</text>
<text x="675.5" y="25.6" font-size="15.8" text-anchor="end">detector 2 [1 - 6] keV</text>
<text x="675.3" y="44.9" font-size="15.9" text-anchor="end">/ndf: 108.81/107</text>
<text x="560.47" y="40" font-size="10.1" text-anchor="end">2</text>
<text transform="translate(554.27 46.3) scale(1.1 1)" font-size="14" text-anchor="end">χ</text>
<text x="676.8" y="63.8" font-size="15.8" text-anchor="end">=0.433]</text>
<text x="623.65" y="71.8" font-size="10.1" text-anchor="end">val</text>
<text x="610.74" y="63.8" font-size="15.8" text-anchor="end">[p</text>
</g>
<g id="panel3">
<path d="M43.61 347.25V361.15M42.41 347.25h2.4M42.41 361.15h2.4M45.23 318.93V333.47M44.03 318.93h2.4M44.03 333.47h2.4M46.85 309.43V324.17M45.65 309.43h2.4M45.65 324.17h2.4M48.47 318.93V333.47M47.27 318.93h2.4M47.27 333.47h2.4M50.09 332.52V346.76M48.89 332.52h2.4M48.89 346.76h2.4M51.71 333.29V347.51M50.51 333.29h2.4M50.51 347.51h2.4M53.33 331.57V345.83M52.13 331.57h2.4M52.13 345.83h2.4M54.95 335.72V349.88M53.75 335.72h2.4M53.75 349.88h2.4M56.57 338.96V353.04M55.37 338.96h2.4M55.37 353.04h2.4M58.19 325.5V339.9M56.99 325.5h2.4M56.99 339.9h2.4M59.81 317.52V332.08M58.61 317.52h2.4M58.61 332.08h2.4M61.43 336.93V351.07M60.23 336.93h2.4M60.23 351.07h2.4M63.05 325.5V339.9M61.85 325.5h2.4M61.85 339.9h2.4M64.67 324.41V338.83M63.47 324.41h2.4M63.47 338.83h2.4M66.29 335.72V349.88M65.09 335.72h2.4M65.09 349.88h2.4M67.91 319.94V334.46M66.71 319.94h2.4M66.71 334.46h2.4M69.53 340.68V354.72M68.33 340.68h2.4M68.33 354.72h2.4M71.15 323.18V337.62M69.95 323.18h2.4M69.95 337.62h2.4M72.77 337.44V351.56M71.57 337.44h2.4M71.57 351.56h2.4M74.39 325.91V340.29M73.19 325.91h2.4M73.19 340.29h2.4M76.01 341.38V355.42M74.81 341.38h2.4M74.81 355.42h2.4M77.63 329.45V343.75M76.43 329.45h2.4M76.43 343.75h2.4M79.25 324.59V339.01M78.05 324.59h2.4M78.05 339.01h2.4M80.87 337.84V351.96M79.67 337.84h2.4M79.67 351.96h2.4M82.49 325.2V339.6M81.29 325.2h2.4M81.29 339.6h2.4M84.11 338.71V352.8M82.91 338.71h2.4M82.91 352.8h2.4M85.73 339.97V354.03M84.53 339.97h2.4M84.53 354.03h2.4M87.35 344.22V358.18M86.15 344.22h2.4M86.15 358.18h2.4M88.97 338.74V352.84M87.77 338.74h2.4M87.77 352.84h2.4M90.59 337.13V351.26M89.39 337.13h2.4M89.39 351.26h2.4M92.21 346.74V360.66M91.01 346.74h2.4M91.01 360.66h2.4M93.83 333.7V347.9M92.63 333.7h2.4M92.63 347.9h2.4M95.45 329.45V343.75M94.25 329.45h2.4M94.25 343.75h2.4M97.07 344.22V358.18M95.87 344.22h2.4M95.87 358.18h2.4M98.69 334.56V348.75M97.49 334.56h2.4M97.49 348.75h2.4M100.31 341.57V355.6M99.11 341.57h2.4M99.11 355.6h2.4M101.93 340.52V354.58M100.73 340.52h2.4M100.73 354.58h2.4M103.55 335.11V349.29M102.35 335.11h2.4M102.35 349.29h2.4M105.17 356.76V370.44M103.97 356.76h2.4M103.97 370.44h2.4M106.79 351.2V365M105.59 351.2h2.4M105.59 365h2.4M108.41 347.66V361.54M107.21 347.66h2.4M107.21 361.54h2.4M110.03 333.55V347.77M108.83 333.55h2.4M108.83 347.77h2.4M111.65 331.27V345.53M110.45 331.27h2.4M110.45 345.53h2.4M113.27 339.47V353.55M112.07 339.47h2.4M112.07 353.55h2.4M114.89 336.43V350.57M113.69 336.43h2.4M113.69 350.57h2.4M116.51 340.86V354.91M115.31 340.86h2.4M115.31 354.91h2.4M118.13 336.43V350.57M116.93 336.43h2.4M116.93 350.57h2.4M119.75 335.29V349.46M118.55 335.29h2.4M118.55 349.46h2.4M121.37 343.75V357.73M120.17 343.75h2.4M120.17 357.73h2.4M122.99 348.98V362.84M121.79 348.98h2.4M121.79 362.84h2.4M124.61 348.67V362.53M123.41 348.67h2.4M123.41 362.53h2.4M126.23 336.43V350.57M125.03 336.43h2.4M125.03 350.57h2.4M127.85 348.67V362.53M126.65 348.67h2.4M126.65 362.53h2.4M129.47 345.24V359.18M128.27 345.24h2.4M128.27 359.18h2.4M131.09 340.37V354.43M129.89 340.37h2.4M129.89 354.43h2.4M132.71 342.89V356.89M131.51 342.89h2.4M131.51 356.89h2.4M134.33 354.74V368.46M133.13 354.74h2.4M133.13 368.46h2.4M135.95 342.6V356.61M134.75 342.6h2.4M134.75 356.61h2.4M137.57 349.2V363.05M136.37 349.2h2.4M136.37 363.05h2.4M139.19 349.58V363.42M137.99 349.58h2.4M137.99 363.42h2.4M140.81 342.83V356.83M139.61 342.83h2.4M139.61 356.83h2.4M142.43 346.91V360.82M141.23 346.91h2.4M141.23 360.82h2.4M144.05 340.17V354.23M142.85 340.17h2.4M142.85 354.23h2.4M145.67 348.87V362.73M144.47 348.87h2.4M144.47 362.73h2.4M147.29 342.07V356.08M146.09 342.07h2.4M146.09 356.08h2.4M148.91 343.2V357.2M147.71 343.2h2.4M147.71 357.2h2.4M150.53 344.63V358.59M149.33 344.63h2.4M149.33 358.59h2.4M152.15 350.89V364.71M150.95 350.89h2.4M150.95 364.71h2.4M153.77 340.17V354.23M152.57 340.17h2.4M152.57 354.23h2.4M155.39 340.17V354.23M154.19 340.17h2.4M154.19 354.23h2.4M157.01 348.21V362.09M155.81 348.21h2.4M155.81 362.09h2.4M158.63 343.7V357.68M157.43 343.7h2.4M157.43 357.68h2.4M160.25 353.02V366.78M159.05 353.02h2.4M159.05 366.78h2.4M161.87 342.19V356.21M160.67 342.19h2.4M160.67 356.21h2.4M163.49 353.73V367.47M162.29 353.73h2.4M162.29 367.47h2.4M165.11 342.51V356.52M163.91 342.51h2.4M163.91 356.52h2.4M166.73 346.39V360.31M165.53 346.39h2.4M165.53 360.31h2.4M168.35 355.33V369.04M167.15 355.33h2.4M167.15 369.04h2.4M169.97 340.37V354.43M168.77 340.37h2.4M168.77 354.43h2.4M171.59 356.56V370.24M170.39 356.56h2.4M170.39 370.24h2.4M173.21 352.34V366.12M172.01 352.34h2.4M172.01 366.12h2.4M174.83 348.38V362.25M173.63 348.38h2.4M173.63 362.25h2.4M176.45 358.68V372.32M175.25 358.68h2.4M175.25 372.32h2.4M178.07 350.93V364.74M176.87 350.93h2.4M176.87 364.74h2.4M179.69 350.67V364.49M178.49 350.67h2.4M178.49 364.49h2.4M181.31 340.68V354.72M180.11 340.68h2.4M180.11 354.72h2.4M182.93 343.51V357.49M181.73 343.51h2.4M181.73 357.49h2.4M184.55 358.68V372.32M183.35 358.68h2.4M183.35 372.32h2.4M186.17 361.21V374.79M184.97 361.21h2.4M184.97 374.79h2.4M187.79 349.32V363.17M186.59 349.32h2.4M186.59 363.17h2.4M189.41 360.1V373.7M188.21 360.1h2.4M188.21 373.7h2.4M191.03 365.67V379.13M189.83 365.67h2.4M189.83 379.13h2.4M192.65 349.58V363.42M191.45 349.58h2.4M191.45 363.42h2.4M194.27 338.35V352.45M193.07 338.35h2.4M193.07 352.45h2.4M195.89 344.62V358.58M194.69 344.62h2.4M194.69 358.58h2.4M197.51 355.9V369.6M196.31 355.9h2.4M196.31 369.6h2.4M199.13 359.8V373.4M197.93 359.8h2.4M197.93 373.4h2.4M200.75 346.04V359.96M199.55 346.04h2.4M199.55 359.96h2.4M202.37 347.48V361.37M201.17 347.48h2.4M201.17 361.37h2.4M203.99 347.67V361.56M202.79 347.67h2.4M202.79 361.56h2.4M205.61 363.14V376.66M204.41 363.14h2.4M204.41 376.66h2.4M207.23 350.89V364.71M206.03 350.89h2.4M206.03 364.71h2.4M208.85 357.28V370.95M207.65 357.28h2.4M207.65 370.95h2.4M210.47 348.87V362.73M209.27 348.87h2.4M209.27 362.73h2.4M212.09 348.65V362.51M210.89 348.65h2.4M210.89 362.51h2.4M213.71 366.07V379.53M212.51 366.07h2.4M212.51 379.53h2.4M215.33 377.61V390.79M214.13 377.61h2.4M214.13 390.79h2.4M216.95 352.11V365.89M215.75 352.11h2.4M215.75 365.89h2.4M218.57 342.19V356.21M217.37 342.19h2.4M217.37 356.21h2.4M220.19 346.44V360.36M218.99 346.44h2.4M218.99 360.36h2.4" stroke="#000" stroke-width="0.9" fill="none"/>
<g fill="#000"><circle cx="43.61" cy="354.2" r="2.5"/><circle cx="45.23" cy="326.2" r="2.5"/><circle cx="46.85" cy="316.8" r="2.5"/><circle cx="48.47" cy="326.2" r="2.5"/><circle cx="50.09" cy="339.64" r="2.5"/><circle cx="51.71" cy="340.4" r="2.5"/><circle cx="53.33" cy="338.7" r="2.5"/><circle cx="54.95" cy="342.8" r="2.5"/><circle cx="56.57" cy="346" r="2.5"/><circle cx="58.19" cy="332.7" r="2.5"/><circle cx="59.81" cy="324.8" r="2.5"/><circle cx="61.43" cy="344" r="2.5"/><circle cx="63.05" cy="332.7" r="2.5"/><circle cx="64.67" cy="331.62" r="2.5"/><circle cx="66.29" cy="342.8" r="2.5"/><circle cx="67.91" cy="327.2" r="2.5"/><circle cx="69.53" cy="347.7" r="2.5"/><circle cx="71.15" cy="330.4" r="2.5"/><circle cx="72.77" cy="344.5" r="2.5"/><circle cx="74.39" cy="333.1" r="2.5"/><circle cx="76.01" cy="348.4" r="2.5"/><circle cx="77.63" cy="336.6" r="2.5"/><circle cx="79.25" cy="331.8" r="2.5"/><circle cx="80.87" cy="344.9" r="2.5"/><circle cx="82.49" cy="332.4" r="2.5"/><circle cx="84.11" cy="345.76" r="2.5"/><circle cx="85.73" cy="347" r="2.5"/><circle cx="87.35" cy="351.2" r="2.5"/><circle cx="88.97" cy="345.79" r="2.5"/><circle cx="90.59" cy="344.2" r="2.5"/><circle cx="92.21" cy="353.7" r="2.5"/><circle cx="93.83" cy="340.8" r="2.5"/><circle cx="95.45" cy="336.6" r="2.5"/><circle cx="97.07" cy="351.2" r="2.5"/><circle cx="98.69" cy="341.65" r="2.5"/><circle cx="100.31" cy="348.59" r="2.5"/><circle cx="101.93" cy="347.55" r="2.5"/><circle cx="103.55" cy="342.2" r="2.5"/><circle cx="105.17" cy="363.6" r="2.5"/><circle cx="106.79" cy="358.1" r="2.5"/><circle cx="108.41" cy="354.6" r="2.5"/><circle cx="110.03" cy="340.66" r="2.5"/><circle cx="111.65" cy="338.4" r="2.5"/><circle cx="113.27" cy="346.51" r="2.5"/><circle cx="114.89" cy="343.5" r="2.5"/><circle cx="116.51" cy="347.88" r="2.5"/><circle cx="118.13" cy="343.5" r="2.5"/><circle cx="119.75" cy="342.38" r="2.5"/><circle cx="121.37" cy="350.74" r="2.5"/><circle cx="122.99" cy="355.91" r="2.5"/><circle cx="124.61" cy="355.6" r="2.5"/><circle cx="126.23" cy="343.5" r="2.5"/><circle cx="127.85" cy="355.6" r="2.5"/><circle cx="129.47" cy="352.21" r="2.5"/><circle cx="131.09" cy="347.4" r="2.5"/><circle cx="132.71" cy="349.89" r="2.5"/><circle cx="134.33" cy="361.6" r="2.5"/><circle cx="135.95" cy="349.6" r="2.5"/><circle cx="137.57" cy="356.12" r="2.5"/><circle cx="139.19" cy="356.5" r="2.5"/><circle cx="140.81" cy="349.83" r="2.5"/><circle cx="142.43" cy="353.87" r="2.5"/><circle cx="144.05" cy="347.2" r="2.5"/><circle cx="145.67" cy="355.8" r="2.5"/><circle cx="147.29" cy="349.08" r="2.5"/><circle cx="148.91" cy="350.2" r="2.5"/><circle cx="150.53" cy="351.61" r="2.5"/><circle cx="152.15" cy="357.8" r="2.5"/><circle cx="153.77" cy="347.2" r="2.5"/><circle cx="155.39" cy="347.2" r="2.5"/><circle cx="157.01" cy="355.15" r="2.5"/><circle cx="158.63" cy="350.69" r="2.5"/><circle cx="160.25" cy="359.9" r="2.5"/><circle cx="161.87" cy="349.2" r="2.5"/><circle cx="163.49" cy="360.6" r="2.5"/><circle cx="165.11" cy="349.52" r="2.5"/><circle cx="166.73" cy="353.35" r="2.5"/><circle cx="168.35" cy="362.19" r="2.5"/><circle cx="169.97" cy="347.4" r="2.5"/><circle cx="171.59" cy="363.4" r="2.5"/><circle cx="173.21" cy="359.23" r="2.5"/><circle cx="174.83" cy="355.32" r="2.5"/><circle cx="176.45" cy="365.5" r="2.5"/><circle cx="178.07" cy="357.83" r="2.5"/><circle cx="179.69" cy="357.58" r="2.5"/><circle cx="181.31" cy="347.7" r="2.5"/><circle cx="182.93" cy="350.5" r="2.5"/><circle cx="184.55" cy="365.5" r="2.5"/><circle cx="186.17" cy="368" r="2.5"/><circle cx="187.79" cy="356.24" r="2.5"/><circle cx="189.41" cy="366.9" r="2.5"/><circle cx="191.03" cy="372.4" r="2.5"/><circle cx="192.65" cy="356.5" r="2.5"/><circle cx="194.27" cy="345.4" r="2.5"/><circle cx="195.89" cy="351.6" r="2.5"/><circle cx="197.51" cy="362.75" r="2.5"/><circle cx="199.13" cy="366.6" r="2.5"/><circle cx="200.75" cy="353" r="2.5"/><circle cx="202.37" cy="354.42" r="2.5"/><circle cx="203.99" cy="354.62" r="2.5"/><circle cx="205.61" cy="369.9" r="2.5"/><circle cx="207.23" cy="357.8" r="2.5"/><circle cx="208.85" cy="364.12" r="2.5"/><circle cx="210.47" cy="355.8" r="2.5"/><circle cx="212.09" cy="355.58" r="2.5"/><circle cx="213.71" cy="372.8" r="2.5"/><circle cx="215.33" cy="384.2" r="2.5"/><circle cx="216.95" cy="359" r="2.5"/><circle cx="218.57" cy="349.2" r="2.5"/><circle cx="220.19" cy="353.4" r="2.5"/></g>
<clipPath id="c3"><rect x="42.8" y="229.7" width="178.2" height="181.1"/></clipPath>
<polyline clip-path="url(#c3)" points="42.8,333.25 46.04,334.01 49.28,334.77 52.52,335.52 55.76,336.25 59,336.98 62.24,337.69 65.48,338.4 68.72,339.09 71.96,339.78 75.2,340.46 78.44,341.13 81.68,341.78 84.92,342.43 88.16,343.07 91.4,343.7 94.64,344.33 97.88,344.94 101.12,345.55 104.36,346.14 107.6,346.73 110.84,347.31 114.08,347.89 117.32,348.45 120.56,349.01 123.8,349.56 127.04,350.1 130.28,350.63 133.52,351.16 136.76,351.68 140,352.19 143.24,352.7 146.48,353.2 149.72,353.69 152.96,354.17 156.2,354.65 159.44,355.12 162.68,355.59 165.92,356.05 169.16,356.5 172.4,356.94 175.64,357.38 178.88,357.82 182.12,358.24 185.36,358.67 188.6,359.08 191.84,359.49 195.08,359.9 198.32,360.29 201.56,360.69 204.8,361.08 208.04,361.46 211.28,361.84 214.52,362.21 217.76,362.57 221,362.94" fill="none" stroke="#0000ff" stroke-width="3.0"/>
<rect x="42.8" y="229.7" width="178.2" height="181.1" fill="none" stroke="#444" stroke-width="1.25"/>
<path d="M42.8 229.1V410.8M42.2 410.8H221.6" fill="none" stroke="#000" stroke-width="1.1"/>
<path d="M42.8 235.6h5.8M42.8 242.54h3.0M42.8 249.49h3.0M42.8 256.44h3.0M42.8 263.38h5.8M42.8 270.32h3.0M42.8 277.27h3.0M42.8 284.21h3.0M42.8 291.16h5.8M42.8 298.11h3.0M42.8 305.05h3.0M42.8 312h3.0M42.8 318.94h5.8M42.8 325.88h3.0M42.8 332.83h3.0M42.8 339.77h3.0M42.8 346.72h5.8M42.8 353.66h3.0M42.8 360.61h3.0M42.8 367.55h3.0M42.8 374.5h5.8M42.8 381.44h3.0M42.8 388.39h3.0M42.8 395.33h3.0M42.8 402.28h5.8M42.8 409.23h3.0M42.8 410.8v-5.0M50.9 410.8v-2.4M59 410.8v-2.4M67.1 410.8v-2.4M75.2 410.8v-5.0M83.3 410.8v-2.4M91.4 410.8v-2.4M99.5 410.8v-2.4M107.6 410.8v-5.0M115.7 410.8v-2.4M123.8 410.8v-2.4M131.9 410.8v-2.4M140 410.8v-5.0M148.1 410.8v-2.4M156.2 410.8v-2.4M164.3 410.8v-2.4M172.4 410.8v-5.0M180.5 410.8v-2.4M188.6 410.8v-2.4M196.7 410.8v-2.4M204.8 410.8v-5.0M212.9 410.8v-2.4M221 410.8v-2.4" stroke="#111" stroke-width="1.15" fill="none"/>
<g font-size="13.1" text-anchor="end">
<text x="41.7" y="240.3">3000</text>
<text x="41.7" y="268.08">2800</text>
<text x="41.7" y="295.86">2600</text>
<text x="41.7" y="323.64">2400</text>
<text x="41.7" y="351.42">2200</text>
<text x="41.7" y="379.2">2000</text>
<text x="41.7" y="406.98">1800</text>
</g>
<g font-size="13.1" text-anchor="middle">
<text x="42.8" y="422.45">0</text>
<text x="75.2" y="422.45">200</text>
<text x="107.6" y="422.45">400</text>
<text x="140" y="422.45">600</text>
<text x="172.4" y="422.45">800</text>
<text x="204.8" y="422.45">1000</text>
</g>
<text transform="translate(221.1 440) scale(1.046 1)" font-size="13.9" word-spacing="0.15" text-anchor="end">days after August 3, 2017 (days)</text>
<text transform="translate(9.9 229.1) rotate(-90)" font-size="12.85" text-anchor="end">Events / ( 10 days )</text>
<text x="212.5" y="252.4" font-size="15.8" text-anchor="end">detector 3 [1 - 6] keV</text>
<text x="212.3" y="271.7" font-size="15.9" text-anchor="end">/ndf: 109.59/107</text>
<text x="97.47" y="266.8" font-size="10.1" text-anchor="end">2</text>
<text transform="translate(91.27 273.1) scale(1.1 1)" font-size="14" text-anchor="end">χ</text>
<text x="213.8" y="290.6" font-size="15.8" text-anchor="end">=0.412]</text>
<text x="160.65" y="298.6" font-size="10.1" text-anchor="end">val</text>
<text x="147.74" y="290.6" font-size="15.8" text-anchor="end">[p</text>
</g>
<g id="panel4">
<path d="M275.01 317.21V333.04M273.81 317.21h2.4M273.81 333.04h2.4M276.63 330.04V345.56M275.43 330.04h2.4M275.43 345.56h2.4M278.25 299.88V316.12M277.05 299.88h2.4M277.05 316.12h2.4M279.87 323.05V338.75M278.67 323.05h2.4M278.67 338.75h2.4M281.49 315.97V331.84M280.29 315.97h2.4M280.29 331.84h2.4M283.11 330.04V345.56M281.91 330.04h2.4M281.91 345.56h2.4M284.73 312.91V328.85M283.53 312.91h2.4M283.53 328.85h2.4M286.35 316.78V332.62M285.15 316.78h2.4M285.15 332.62h2.4M287.97 323.36V339.05M286.77 323.36h2.4M286.77 339.05h2.4M289.59 327.3V342.9M288.39 327.3h2.4M288.39 342.9h2.4M291.21 318.56V334.37M290.01 318.56h2.4M290.01 334.37h2.4M292.83 328.72V344.28M291.63 328.72h2.4M291.63 344.28h2.4M294.45 320.93V336.67M293.25 320.93h2.4M293.25 336.67h2.4M296.07 327.04V342.64M294.87 327.04h2.4M294.87 342.64h2.4M297.69 322.69V338.4M296.49 322.69h2.4M296.49 338.4h2.4M299.31 322.34V338.06M298.11 322.34h2.4M298.11 338.06h2.4M300.93 324.97V340.62M299.73 324.97h2.4M299.73 340.62h2.4M302.55 315.36V331.24M301.35 315.36h2.4M301.35 331.24h2.4M304.17 332.16V347.64M302.97 332.16h2.4M302.97 347.64h2.4M305.79 320.22V335.98M304.59 320.22h2.4M304.59 335.98h2.4M307.41 325.01V340.66M306.21 325.01h2.4M306.21 340.66h2.4M309.03 326.29V341.91M307.83 326.29h2.4M307.83 341.91h2.4M310.65 338.19V353.52M309.45 338.19h2.4M309.45 353.52h2.4M312.27 336.41V351.79M311.07 336.41h2.4M311.07 351.79h2.4M313.89 339.96V355.24M312.69 339.96h2.4M312.69 355.24h2.4M315.51 322.75V338.45M314.31 322.75h2.4M314.31 338.45h2.4M317.13 324.77V340.43M315.93 324.77h2.4M315.93 340.43h2.4M318.75 343V358.2M317.55 343h2.4M317.55 358.2h2.4M320.37 328.28V343.85M319.17 328.28h2.4M319.17 343.85h2.4M321.99 325.18V340.82M320.79 325.18h2.4M320.79 340.82h2.4M323.61 338.54V353.86M322.41 338.54h2.4M322.41 353.86h2.4M325.23 326.9V342.5M324.03 326.9h2.4M324.03 342.5h2.4M326.85 346.24V361.36M325.65 346.24h2.4M325.65 361.36h2.4M328.47 330.97V346.47M327.27 330.97h2.4M327.27 346.47h2.4M330.09 339.29V354.59M328.89 339.29h2.4M328.89 354.59h2.4M331.71 341.98V357.22M330.51 341.98h2.4M330.51 357.22h2.4M333.33 333.28V348.72M332.13 333.28h2.4M332.13 348.72h2.4M334.95 357.48V372.32M333.75 357.48h2.4M333.75 372.32h2.4M336.57 343.4V358.6M335.37 343.4h2.4M335.37 358.6h2.4M338.19 351.4V366.4M336.99 351.4h2.4M336.99 366.4h2.4M339.81 330.04V345.56M338.61 330.04h2.4M338.61 345.56h2.4M341.43 343.16V358.36M340.23 343.16h2.4M340.23 358.36h2.4M343.05 336.41V351.79M341.85 336.41h2.4M341.85 351.79h2.4M344.67 341.17V356.42M343.47 341.17h2.4M343.47 356.42h2.4M346.29 342.4V357.63M345.09 342.4h2.4M345.09 357.63h2.4M347.91 346.24V361.36M346.71 346.24h2.4M346.71 361.36h2.4M349.53 344.4V359.58M348.33 344.4h2.4M348.33 359.58h2.4M351.15 331.45V346.95M349.95 331.45h2.4M349.95 346.95h2.4M352.77 345.71V360.85M351.57 345.71h2.4M351.57 360.85h2.4M354.39 335V350.4M353.19 335h2.4M353.19 350.4h2.4M356.01 346.24V361.36M354.81 346.24h2.4M354.81 361.36h2.4M357.63 340.94V356.2M356.43 340.94h2.4M356.43 356.2h2.4M359.25 347.65V362.75M358.05 347.65h2.4M358.05 362.75h2.4M360.87 339.25V354.55M359.67 339.25h2.4M359.67 354.55h2.4M362.49 347.65V362.75M361.29 347.65h2.4M361.29 362.75h2.4M364.11 347.99V363.07M362.91 347.99h2.4M362.91 363.07h2.4M365.73 338.54V353.86M364.53 338.54h2.4M364.53 353.86h2.4M367.35 341.06V356.31M366.15 341.06h2.4M366.15 356.31h2.4M368.97 355.25V370.15M367.77 355.25h2.4M367.77 370.15h2.4M370.59 342.29V357.51M369.39 342.29h2.4M369.39 357.51h2.4M372.21 348.91V363.97M371.01 348.91h2.4M371.01 363.97h2.4M373.83 351V366M372.63 351h2.4M372.63 366h2.4M375.45 345.66V360.8M374.25 345.66h2.4M374.25 360.8h2.4M377.07 353.48V368.43M375.87 353.48h2.4M375.87 368.43h2.4M378.69 341.58V356.82M377.49 341.58h2.4M377.49 356.82h2.4M380.31 341.21V356.47M379.11 341.21h2.4M379.11 356.47h2.4M381.93 352.06V367.05M380.73 352.06h2.4M380.73 367.05h2.4M383.55 344.28V359.46M382.35 344.28h2.4M382.35 359.46h2.4M385.17 351.7V366.7M383.97 351.7h2.4M383.97 366.7h2.4M386.79 338.44V353.76M385.59 338.44h2.4M385.59 353.76h2.4M388.41 355.25V370.15M387.21 355.25h2.4M387.21 370.15h2.4M390.03 346.01V361.14M388.83 346.01h2.4M388.83 361.14h2.4M391.65 351.08V366.08M390.45 351.08h2.4M390.45 366.08h2.4M393.27 344.01V359.19M392.07 344.01h2.4M392.07 359.19h2.4M394.89 353.58V368.52M393.69 353.58h2.4M393.69 368.52h2.4M396.51 355.23V370.13M395.31 355.23h2.4M395.31 370.13h2.4M398.13 346.84V361.96M396.93 346.84h2.4M396.93 361.96h2.4M399.75 356.67V371.53M398.55 356.67h2.4M398.55 371.53h2.4M401.37 338.64V353.96M400.17 338.64h2.4M400.17 353.96h2.4M402.99 352.22V367.2M401.79 352.22h2.4M401.79 367.2h2.4M404.61 356.67V371.53M403.41 356.67h2.4M403.41 371.53h2.4M406.23 345.02V360.18M405.03 345.02h2.4M405.03 360.18h2.4M407.85 342.29V357.51M406.65 342.29h2.4M406.65 357.51h2.4M409.47 358.79V373.61M408.27 358.79h2.4M408.27 373.61h2.4M411.09 351.47V366.47M409.89 351.47h2.4M409.89 366.47h2.4M412.71 374.6V389M411.51 374.6h2.4M411.51 389h2.4M414.33 356.38V371.26M413.13 356.38h2.4M413.13 371.26h2.4M415.95 348.26V363.34M414.75 348.26h2.4M414.75 363.34h2.4M417.57 353.19V368.14M416.37 353.19h2.4M416.37 368.14h2.4M419.19 358.79V373.61M417.99 358.79h2.4M417.99 373.61h2.4M420.81 345.02V360.18M419.61 345.02h2.4M419.61 360.18h2.4M422.43 350.18V365.21M421.23 350.18h2.4M421.23 365.21h2.4M424.05 355.52V370.42M422.85 355.52h2.4M422.85 370.42h2.4M425.67 346.84V361.96M424.47 346.84h2.4M424.47 361.96h2.4M427.29 371.36V385.84M426.09 371.36h2.4M426.09 385.84h2.4M428.91 363.66V378.34M427.71 363.66h2.4M427.71 378.34h2.4M430.53 355.05V369.95M429.33 355.05h2.4M429.33 369.95h2.4M432.15 352.41V367.39M430.95 352.41h2.4M430.95 367.39h2.4M433.77 361.53V376.27M432.57 361.53h2.4M432.57 376.27h2.4M435.39 347.15V362.25M434.19 347.15h2.4M434.19 362.25h2.4M437.01 364.01V378.69M435.81 364.01h2.4M435.81 378.69h2.4M438.63 363.66V378.34M437.43 363.66h2.4M437.43 378.34h2.4M440.25 358.35V373.17M439.05 358.35h2.4M439.05 373.17h2.4M441.87 364.71V379.37M440.67 364.71h2.4M440.67 379.37h2.4M443.49 355.25V370.15M442.29 355.25h2.4M442.29 370.15h2.4M445.11 351.95V366.94M443.91 351.95h2.4M443.91 366.94h2.4M446.73 354.59V369.5M445.53 354.59h2.4M445.53 369.5h2.4M448.35 370.75V385.25M447.15 370.75h2.4M447.15 385.25h2.4M449.97 360.53V375.3M448.77 360.53h2.4M448.77 375.3h2.4M451.59 360.82V375.58M450.39 360.82h2.4M450.39 375.58h2.4" stroke="#000" stroke-width="0.9" fill="none"/>
<g fill="#000"><circle cx="275.01" cy="325.13" r="2.5"/><circle cx="276.63" cy="337.8" r="2.5"/><circle cx="278.25" cy="308" r="2.5"/><circle cx="279.87" cy="330.9" r="2.5"/><circle cx="281.49" cy="323.9" r="2.5"/><circle cx="283.11" cy="337.8" r="2.5"/><circle cx="284.73" cy="320.88" r="2.5"/><circle cx="286.35" cy="324.7" r="2.5"/><circle cx="287.97" cy="331.21" r="2.5"/><circle cx="289.59" cy="335.1" r="2.5"/><circle cx="291.21" cy="326.46" r="2.5"/><circle cx="292.83" cy="336.5" r="2.5"/><circle cx="294.45" cy="328.8" r="2.5"/><circle cx="296.07" cy="334.84" r="2.5"/><circle cx="297.69" cy="330.54" r="2.5"/><circle cx="299.31" cy="330.2" r="2.5"/><circle cx="300.93" cy="332.79" r="2.5"/><circle cx="302.55" cy="323.3" r="2.5"/><circle cx="304.17" cy="339.9" r="2.5"/><circle cx="305.79" cy="328.1" r="2.5"/><circle cx="307.41" cy="332.83" r="2.5"/><circle cx="309.03" cy="334.1" r="2.5"/><circle cx="310.65" cy="345.85" r="2.5"/><circle cx="312.27" cy="344.1" r="2.5"/><circle cx="313.89" cy="347.6" r="2.5"/><circle cx="315.51" cy="330.6" r="2.5"/><circle cx="317.13" cy="332.6" r="2.5"/><circle cx="318.75" cy="350.6" r="2.5"/><circle cx="320.37" cy="336.06" r="2.5"/><circle cx="321.99" cy="333" r="2.5"/><circle cx="323.61" cy="346.2" r="2.5"/><circle cx="325.23" cy="334.7" r="2.5"/><circle cx="326.85" cy="353.8" r="2.5"/><circle cx="328.47" cy="338.72" r="2.5"/><circle cx="330.09" cy="346.94" r="2.5"/><circle cx="331.71" cy="349.6" r="2.5"/><circle cx="333.33" cy="341" r="2.5"/><circle cx="334.95" cy="364.9" r="2.5"/><circle cx="336.57" cy="351" r="2.5"/><circle cx="338.19" cy="358.9" r="2.5"/><circle cx="339.81" cy="337.8" r="2.5"/><circle cx="341.43" cy="350.76" r="2.5"/><circle cx="343.05" cy="344.1" r="2.5"/><circle cx="344.67" cy="348.8" r="2.5"/><circle cx="346.29" cy="350.01" r="2.5"/><circle cx="347.91" cy="353.8" r="2.5"/><circle cx="349.53" cy="351.99" r="2.5"/><circle cx="351.15" cy="339.2" r="2.5"/><circle cx="352.77" cy="353.28" r="2.5"/><circle cx="354.39" cy="342.7" r="2.5"/><circle cx="356.01" cy="353.8" r="2.5"/><circle cx="357.63" cy="348.57" r="2.5"/><circle cx="359.25" cy="355.2" r="2.5"/><circle cx="360.87" cy="346.9" r="2.5"/><circle cx="362.49" cy="355.2" r="2.5"/><circle cx="364.11" cy="355.53" r="2.5"/><circle cx="365.73" cy="346.2" r="2.5"/><circle cx="367.35" cy="348.68" r="2.5"/><circle cx="368.97" cy="362.7" r="2.5"/><circle cx="370.59" cy="349.9" r="2.5"/><circle cx="372.21" cy="356.44" r="2.5"/><circle cx="373.83" cy="358.5" r="2.5"/><circle cx="375.45" cy="353.23" r="2.5"/><circle cx="377.07" cy="360.95" r="2.5"/><circle cx="378.69" cy="349.2" r="2.5"/><circle cx="380.31" cy="348.84" r="2.5"/><circle cx="381.93" cy="359.55" r="2.5"/><circle cx="383.55" cy="351.87" r="2.5"/><circle cx="385.17" cy="359.2" r="2.5"/><circle cx="386.79" cy="346.1" r="2.5"/><circle cx="388.41" cy="362.7" r="2.5"/><circle cx="390.03" cy="353.57" r="2.5"/><circle cx="391.65" cy="358.58" r="2.5"/><circle cx="393.27" cy="351.6" r="2.5"/><circle cx="394.89" cy="361.05" r="2.5"/><circle cx="396.51" cy="362.68" r="2.5"/><circle cx="398.13" cy="354.4" r="2.5"/><circle cx="399.75" cy="364.1" r="2.5"/><circle cx="401.37" cy="346.3" r="2.5"/><circle cx="402.99" cy="359.71" r="2.5"/><circle cx="404.61" cy="364.1" r="2.5"/><circle cx="406.23" cy="352.6" r="2.5"/><circle cx="407.85" cy="349.9" r="2.5"/><circle cx="409.47" cy="366.2" r="2.5"/><circle cx="411.09" cy="358.97" r="2.5"/><circle cx="412.71" cy="381.8" r="2.5"/><circle cx="414.33" cy="363.82" r="2.5"/><circle cx="415.95" cy="355.8" r="2.5"/><circle cx="417.57" cy="360.66" r="2.5"/><circle cx="419.19" cy="366.2" r="2.5"/><circle cx="420.81" cy="352.6" r="2.5"/><circle cx="422.43" cy="357.69" r="2.5"/><circle cx="424.05" cy="362.97" r="2.5"/><circle cx="425.67" cy="354.4" r="2.5"/><circle cx="427.29" cy="378.6" r="2.5"/><circle cx="428.91" cy="371" r="2.5"/><circle cx="430.53" cy="362.5" r="2.5"/><circle cx="432.15" cy="359.9" r="2.5"/><circle cx="433.77" cy="368.9" r="2.5"/><circle cx="435.39" cy="354.7" r="2.5"/><circle cx="437.01" cy="371.35" r="2.5"/><circle cx="438.63" cy="371" r="2.5"/><circle cx="440.25" cy="365.76" r="2.5"/><circle cx="441.87" cy="372.04" r="2.5"/><circle cx="443.49" cy="362.7" r="2.5"/><circle cx="445.11" cy="359.45" r="2.5"/><circle cx="446.73" cy="362.05" r="2.5"/><circle cx="448.35" cy="378" r="2.5"/><circle cx="449.97" cy="367.91" r="2.5"/><circle cx="451.59" cy="368.2" r="2.5"/></g>
<clipPath id="c4"><rect x="274.2" y="229.7" width="178.2" height="181.1"/></clipPath>
<polyline clip-path="url(#c4)" points="274.2,322.67 277.44,324.46 280.68,326.16 283.92,327.79 287.16,329.33 290.4,330.81 293.64,332.22 296.88,333.57 300.12,334.85 303.36,336.09 306.6,337.27 309.84,338.4 313.08,339.49 316.32,340.53 319.56,341.54 322.8,342.5 326.04,343.44 329.28,344.34 332.52,345.21 335.76,346.05 339,346.86 342.24,347.65 345.48,348.42 348.72,349.16 351.96,349.88 355.2,350.58 358.44,351.27 361.68,351.93 364.92,352.59 368.16,353.22 371.4,353.84 374.64,354.45 377.88,355.05 381.12,355.63 384.36,356.21 387.6,356.77 390.84,357.33 394.08,357.87 397.32,358.41 400.56,358.94 403.8,359.46 407.04,359.97 410.28,360.48 413.52,360.98 416.76,361.48 420,361.97 423.24,362.46 426.48,362.94 429.72,363.42 432.96,363.89 436.2,364.36 439.44,364.82 442.68,365.29 445.92,365.74 449.16,366.2 452.4,366.65" fill="none" stroke="#0000ff" stroke-width="3.0"/>
<rect x="274.2" y="229.7" width="178.2" height="181.1" fill="none" stroke="#444" stroke-width="1.25"/>
<path d="M274.2 229.1V410.8M273.6 410.8H453" fill="none" stroke="#000" stroke-width="1.1"/>
<path d="M274.2 234.7h3.0M274.2 242.9h3.0M274.2 251.1h3.0M274.2 259.3h5.8M274.2 267.5h3.0M274.2 275.7h3.0M274.2 283.9h3.0M274.2 292.1h5.8M274.2 300.3h3.0M274.2 308.5h3.0M274.2 316.7h3.0M274.2 324.9h5.8M274.2 333.1h3.0M274.2 341.3h3.0M274.2 349.5h3.0M274.2 357.7h5.8M274.2 365.9h3.0M274.2 374.1h3.0M274.2 382.3h3.0M274.2 390.5h5.8M274.2 398.7h3.0M274.2 406.9h3.0M274.2 410.8v-5.0M282.3 410.8v-2.4M290.4 410.8v-2.4M298.5 410.8v-2.4M306.6 410.8v-5.0M314.7 410.8v-2.4M322.8 410.8v-2.4M330.9 410.8v-2.4M339 410.8v-5.0M347.1 410.8v-2.4M355.2 410.8v-2.4M363.3 410.8v-2.4M371.4 410.8v-5.0M379.5 410.8v-2.4M387.6 410.8v-2.4M395.7 410.8v-2.4M403.8 410.8v-5.0M411.9 410.8v-2.4M420 410.8v-2.4M428.1 410.8v-2.4M436.2 410.8v-5.0M444.3 410.8v-2.4M452.4 410.8v-2.4" stroke="#111" stroke-width="1.15" fill="none"/>
<g font-size="13.1" text-anchor="end">
<text x="273.1" y="264">2400</text>
<text x="273.1" y="296.8">2200</text>
<text x="273.1" y="329.6">2000</text>
<text x="273.1" y="362.4">1800</text>
<text x="273.1" y="395.2">1600</text>
</g>
<g font-size="13.1" text-anchor="middle">
<text x="274.2" y="422.45">0</text>
<text x="306.6" y="422.45">200</text>
<text x="339" y="422.45">400</text>
<text x="371.4" y="422.45">600</text>
<text x="403.8" y="422.45">800</text>
<text x="436.2" y="422.45">1000</text>
</g>
<text transform="translate(452.5 440) scale(1.046 1)" font-size="13.9" word-spacing="0.15" text-anchor="end">days after August 3, 2017 (days)</text>
<text transform="translate(241.3 229.1) rotate(-90)" font-size="12.85" text-anchor="end">Events / ( 10 days )</text>
<text x="443.9" y="252.4" font-size="15.8" text-anchor="end">detector 4 [1 - 6] keV</text>
<text x="443.7" y="271.7" font-size="15.9" text-anchor="end">/ndf: 91.37/107</text>
<text x="337.71" y="266.8" font-size="10.1" text-anchor="end">2</text>
<text transform="translate(331.51 273.1) scale(1.1 1)" font-size="14" text-anchor="end">χ</text>
<text x="445.2" y="290.6" font-size="15.8" text-anchor="end">=0.860]</text>
<text x="392.05" y="298.6" font-size="10.1" text-anchor="end">val</text>
<text x="379.14" y="290.6" font-size="15.8" text-anchor="end">[p</text>
</g>
<g id="panel5">
<path d="M506.31 339.15V354.05M505.11 339.15h2.4M505.11 354.05h2.4M507.93 332.04V347.12M506.73 332.04h2.4M506.73 347.12h2.4M509.55 336.51V351.49M508.35 336.51h2.4M508.35 351.49h2.4M511.17 329.03V344.17M509.97 329.03h2.4M509.97 344.17h2.4M512.79 325.4V340.63M511.59 325.4h2.4M511.59 340.63h2.4M514.41 340.66V355.54M513.21 340.66h2.4M513.21 355.54h2.4M516.03 351.09V365.71M514.83 351.09h2.4M514.83 365.71h2.4M517.65 327.61V342.79M516.45 327.61h2.4M516.45 342.79h2.4M519.27 326.9V342.1M518.07 326.9h2.4M518.07 342.1h2.4M520.89 322.04V337.36M519.69 322.04h2.4M519.69 337.36h2.4M522.51 312.94V328.46M521.31 312.94h2.4M521.31 328.46h2.4M524.13 348.26V362.94M522.93 348.26h2.4M522.93 362.94h2.4M525.75 336.51V351.49M524.55 336.51h2.4M524.55 351.49h2.4M527.37 328.1V343.27M526.17 328.1h2.4M526.17 343.27h2.4M528.99 336.51V351.49M527.79 336.51h2.4M527.79 351.49h2.4M530.61 317.79V333.21M529.41 317.79h2.4M529.41 333.21h2.4M532.23 327.61V342.79M531.03 327.61h2.4M531.03 342.79h2.4M533.85 319.51V334.89M532.65 319.51h2.4M532.65 334.89h2.4M535.47 330.63V345.74M534.27 330.63h2.4M534.27 345.74h2.4M537.09 324.78V340.02M535.89 324.78h2.4M535.89 340.02h2.4M538.71 341.68V356.52M537.51 341.68h2.4M537.51 356.52h2.4M540.33 338.13V353.07M539.13 338.13h2.4M539.13 353.07h2.4M541.95 330.75V345.86M540.75 330.75h2.4M540.75 345.86h2.4M543.57 320.63V335.97M542.37 320.63h2.4M542.37 335.97h2.4M545.19 324.57V339.83M543.99 324.57h2.4M543.99 339.83h2.4M546.81 329.02V344.17M545.61 329.02h2.4M545.61 344.17h2.4M548.43 330.44V345.56M547.23 330.44h2.4M547.23 345.56h2.4M550.05 341.68V356.52M548.85 341.68h2.4M548.85 356.52h2.4M551.67 324.78V340.02M550.47 324.78h2.4M550.47 340.02h2.4M553.29 344.51V359.29M552.09 344.51h2.4M552.09 359.29h2.4M554.91 329.73V344.87M553.71 329.73h2.4M553.71 344.87h2.4M556.53 330.17V345.29M555.33 330.17h2.4M555.33 345.29h2.4M558.15 333.28V348.32M556.95 333.28h2.4M556.95 348.32h2.4M559.77 341.68V356.52M558.57 341.68h2.4M558.57 356.52h2.4M561.39 347.24V361.96M560.19 347.24h2.4M560.19 361.96h2.4M563.01 331.86V346.94M561.81 331.86h2.4M561.81 346.94h2.4M564.63 344.54V359.31M563.43 344.54h2.4M563.43 359.31h2.4M566.25 332.57V347.63M565.05 332.57h2.4M565.05 347.63h2.4M567.87 338.29V353.22M566.67 338.29h2.4M566.67 353.22h2.4M569.49 330.44V345.56M568.29 330.44h2.4M568.29 345.56h2.4M571.11 354.74V369.26M569.91 354.74h2.4M569.91 369.26h2.4M572.73 338.22V353.15M571.53 338.22h2.4M571.53 353.15h2.4M574.35 343.09V357.91M573.15 343.09h2.4M573.15 357.91h2.4M575.97 339.02V353.93M574.77 339.02h2.4M574.77 353.93h2.4M577.59 333.5V348.54M576.39 333.5h2.4M576.39 348.54h2.4M579.21 346.54V361.26M578.01 346.54h2.4M578.01 361.26h2.4M580.83 340.26V355.14M579.63 340.26h2.4M579.63 355.14h2.4M582.45 334.25V349.28M581.25 334.25h2.4M581.25 349.28h2.4M584.07 345.83V360.57M582.87 345.83h2.4M582.87 360.57h2.4M585.69 345.49V360.24M584.49 345.49h2.4M584.49 360.24h2.4M587.31 338.13V353.07M586.11 338.13h2.4M586.11 353.07h2.4M588.93 333.28V348.32M587.73 333.28h2.4M587.73 348.32h2.4M590.55 354.03V368.57M589.35 354.03h2.4M589.35 368.57h2.4M592.17 334.69V349.71M590.97 334.69h2.4M590.97 349.71h2.4M593.79 322.75V338.05M592.59 322.75h2.4M592.59 338.05h2.4M595.41 355.75V370.25M594.21 355.75h2.4M594.21 370.25h2.4M597.03 335.3V350.3M595.83 335.3h2.4M595.83 350.3h2.4M598.65 338.29V353.22M597.45 338.29h2.4M597.45 353.22h2.4M600.27 353.02V367.58M599.07 353.02h2.4M599.07 367.58h2.4M601.89 350.04V364.69M600.69 350.04h2.4M600.69 364.69h2.4M603.51 353.32V367.88M602.31 353.32h2.4M602.31 367.88h2.4M605.13 348.38V363.06M603.93 348.38h2.4M603.93 363.06h2.4M606.75 351.8V366.4M605.55 351.8h2.4M605.55 366.4h2.4M608.37 349.57V364.23M607.17 349.57h2.4M607.17 364.23h2.4M609.99 340.36V355.24M608.79 340.36h2.4M608.79 355.24h2.4M611.61 339.75V354.65M610.41 339.75h2.4M610.41 354.65h2.4M613.23 333.68V348.72M612.03 333.68h2.4M612.03 348.72h2.4M614.85 357.27V371.73M613.65 357.27h2.4M613.65 371.73h2.4M616.47 365.67V379.93M615.27 365.67h2.4M615.27 379.93h2.4M618.09 343.77V358.57M616.89 343.77h2.4M616.89 358.57h2.4M619.71 342.95V357.77M618.51 342.95h2.4M618.51 357.77h2.4M621.33 353.79V368.34M620.13 353.79h2.4M620.13 368.34h2.4M622.95 357.57V372.03M621.75 357.57h2.4M621.75 372.03h2.4M624.57 357.57V372.03M623.37 357.57h2.4M623.37 372.03h2.4M626.19 339.75V354.65M624.99 339.75h2.4M624.99 354.65h2.4M627.81 341.07V355.93M626.61 341.07h2.4M626.61 355.93h2.4M629.43 352.31V366.89M628.23 352.31h2.4M628.23 366.89h2.4M631.05 349.78V364.42M629.85 349.78h2.4M629.85 364.42h2.4M632.67 340.36V355.24M631.47 340.36h2.4M631.47 355.24h2.4M634.29 336.62V351.58M633.09 336.62h2.4M633.09 351.58h2.4M635.91 342.24V357.07M634.71 342.24h2.4M634.71 357.07h2.4M637.53 341.07V355.93M636.33 341.07h2.4M636.33 355.93h2.4M639.15 343.18V357.99M637.95 343.18h2.4M637.95 357.99h2.4M640.77 357.57V372.03M639.57 357.57h2.4M639.57 372.03h2.4M642.39 339.75V354.65M641.19 339.75h2.4M641.19 354.65h2.4M644.01 355.85V370.35M642.81 355.85h2.4M642.81 370.35h2.4M645.63 354.91V369.43M644.43 354.91h2.4M644.43 369.43h2.4M647.25 367.8V382M646.05 367.8h2.4M646.05 382h2.4M648.87 358.69V373.11M647.67 358.69h2.4M647.67 373.11h2.4M650.49 334.09V349.11M649.29 334.09h2.4M649.29 349.11h2.4M652.11 337.63V352.57M650.91 337.63h2.4M650.91 352.57h2.4M653.73 358.69V373.11M652.53 358.69h2.4M652.53 373.11h2.4M655.35 330.14V345.26M654.15 330.14h2.4M654.15 345.26h2.4M656.97 348.16V362.84M655.77 348.16h2.4M655.77 362.84h2.4M658.59 361.42V375.78M657.39 361.42h2.4M657.39 375.78h2.4M660.21 345.73V360.47M659.01 345.73h2.4M659.01 360.47h2.4M661.83 363.55V377.85M660.63 363.55h2.4M660.63 377.85h2.4M663.45 357.12V371.59M662.25 357.12h2.4M662.25 371.59h2.4M665.07 349.57V364.23M663.87 349.57h2.4M663.87 364.23h2.4M666.69 362.13V376.47M665.49 362.13h2.4M665.49 376.47h2.4M668.31 352.24V366.83M667.11 352.24h2.4M667.11 366.83h2.4M669.93 346.74V361.46M668.73 346.74h2.4M668.73 361.46h2.4M671.55 360.88V375.26M670.35 360.88h2.4M670.35 375.26h2.4M673.17 362.84V377.16M671.97 362.84h2.4M671.97 377.16h2.4M674.79 357.22V371.69M673.59 357.22h2.4M673.59 371.69h2.4M676.41 359.28V373.7M675.21 359.28h2.4M675.21 373.7h2.4M678.03 357.1V371.56M676.83 357.1h2.4M676.83 371.56h2.4M679.65 357.33V371.8M678.45 357.33h2.4M678.45 371.8h2.4M681.27 360.81V375.19M680.07 360.81h2.4M680.07 375.19h2.4M682.89 348.16V362.84M681.69 348.16h2.4M681.69 362.84h2.4" stroke="#000" stroke-width="0.9" fill="none"/>
<g fill="#000"><circle cx="506.31" cy="346.6" r="2.5"/><circle cx="507.93" cy="339.58" r="2.5"/><circle cx="509.55" cy="344" r="2.5"/><circle cx="511.17" cy="336.6" r="2.5"/><circle cx="512.79" cy="333.02" r="2.5"/><circle cx="514.41" cy="348.1" r="2.5"/><circle cx="516.03" cy="358.4" r="2.5"/><circle cx="517.65" cy="335.2" r="2.5"/><circle cx="519.27" cy="334.5" r="2.5"/><circle cx="520.89" cy="329.7" r="2.5"/><circle cx="522.51" cy="320.7" r="2.5"/><circle cx="524.13" cy="355.6" r="2.5"/><circle cx="525.75" cy="344" r="2.5"/><circle cx="527.37" cy="335.68" r="2.5"/><circle cx="528.99" cy="344" r="2.5"/><circle cx="530.61" cy="325.5" r="2.5"/><circle cx="532.23" cy="335.2" r="2.5"/><circle cx="533.85" cy="327.2" r="2.5"/><circle cx="535.47" cy="338.19" r="2.5"/><circle cx="537.09" cy="332.4" r="2.5"/><circle cx="538.71" cy="349.1" r="2.5"/><circle cx="540.33" cy="345.6" r="2.5"/><circle cx="541.95" cy="338.31" r="2.5"/><circle cx="543.57" cy="328.3" r="2.5"/><circle cx="545.19" cy="332.2" r="2.5"/><circle cx="546.81" cy="336.6" r="2.5"/><circle cx="548.43" cy="338" r="2.5"/><circle cx="550.05" cy="349.1" r="2.5"/><circle cx="551.67" cy="332.4" r="2.5"/><circle cx="553.29" cy="351.9" r="2.5"/><circle cx="554.91" cy="337.3" r="2.5"/><circle cx="556.53" cy="337.73" r="2.5"/><circle cx="558.15" cy="340.8" r="2.5"/><circle cx="559.77" cy="349.1" r="2.5"/><circle cx="561.39" cy="354.6" r="2.5"/><circle cx="563.01" cy="339.4" r="2.5"/><circle cx="564.63" cy="351.93" r="2.5"/><circle cx="566.25" cy="340.1" r="2.5"/><circle cx="567.87" cy="345.75" r="2.5"/><circle cx="569.49" cy="338" r="2.5"/><circle cx="571.11" cy="362" r="2.5"/><circle cx="572.73" cy="345.69" r="2.5"/><circle cx="574.35" cy="350.5" r="2.5"/><circle cx="575.97" cy="346.48" r="2.5"/><circle cx="577.59" cy="341.02" r="2.5"/><circle cx="579.21" cy="353.9" r="2.5"/><circle cx="580.83" cy="347.7" r="2.5"/><circle cx="582.45" cy="341.77" r="2.5"/><circle cx="584.07" cy="353.2" r="2.5"/><circle cx="585.69" cy="352.87" r="2.5"/><circle cx="587.31" cy="345.6" r="2.5"/><circle cx="588.93" cy="340.8" r="2.5"/><circle cx="590.55" cy="361.3" r="2.5"/><circle cx="592.17" cy="342.2" r="2.5"/><circle cx="593.79" cy="330.4" r="2.5"/><circle cx="595.41" cy="363" r="2.5"/><circle cx="597.03" cy="342.8" r="2.5"/><circle cx="598.65" cy="345.76" r="2.5"/><circle cx="600.27" cy="360.3" r="2.5"/><circle cx="601.89" cy="357.37" r="2.5"/><circle cx="603.51" cy="360.6" r="2.5"/><circle cx="605.13" cy="355.72" r="2.5"/><circle cx="606.75" cy="359.1" r="2.5"/><circle cx="608.37" cy="356.9" r="2.5"/><circle cx="609.99" cy="347.8" r="2.5"/><circle cx="611.61" cy="347.2" r="2.5"/><circle cx="613.23" cy="341.2" r="2.5"/><circle cx="614.85" cy="364.5" r="2.5"/><circle cx="616.47" cy="372.8" r="2.5"/><circle cx="618.09" cy="351.17" r="2.5"/><circle cx="619.71" cy="350.36" r="2.5"/><circle cx="621.33" cy="361.06" r="2.5"/><circle cx="622.95" cy="364.8" r="2.5"/><circle cx="624.57" cy="364.8" r="2.5"/><circle cx="626.19" cy="347.2" r="2.5"/><circle cx="627.81" cy="348.5" r="2.5"/><circle cx="629.43" cy="359.6" r="2.5"/><circle cx="631.05" cy="357.1" r="2.5"/><circle cx="632.67" cy="347.8" r="2.5"/><circle cx="634.29" cy="344.1" r="2.5"/><circle cx="635.91" cy="349.66" r="2.5"/><circle cx="637.53" cy="348.5" r="2.5"/><circle cx="639.15" cy="350.58" r="2.5"/><circle cx="640.77" cy="364.8" r="2.5"/><circle cx="642.39" cy="347.2" r="2.5"/><circle cx="644.01" cy="363.1" r="2.5"/><circle cx="645.63" cy="362.17" r="2.5"/><circle cx="647.25" cy="374.9" r="2.5"/><circle cx="648.87" cy="365.9" r="2.5"/><circle cx="650.49" cy="341.6" r="2.5"/><circle cx="652.11" cy="345.1" r="2.5"/><circle cx="653.73" cy="365.9" r="2.5"/><circle cx="655.35" cy="337.7" r="2.5"/><circle cx="656.97" cy="355.5" r="2.5"/><circle cx="658.59" cy="368.6" r="2.5"/><circle cx="660.21" cy="353.1" r="2.5"/><circle cx="661.83" cy="370.7" r="2.5"/><circle cx="663.45" cy="364.35" r="2.5"/><circle cx="665.07" cy="356.9" r="2.5"/><circle cx="666.69" cy="369.3" r="2.5"/><circle cx="668.31" cy="359.54" r="2.5"/><circle cx="669.93" cy="354.1" r="2.5"/><circle cx="671.55" cy="368.07" r="2.5"/><circle cx="673.17" cy="370" r="2.5"/><circle cx="674.79" cy="364.45" r="2.5"/><circle cx="676.41" cy="366.49" r="2.5"/><circle cx="678.03" cy="364.33" r="2.5"/><circle cx="679.65" cy="364.56" r="2.5"/><circle cx="681.27" cy="368" r="2.5"/><circle cx="682.89" cy="355.5" r="2.5"/></g>
<clipPath id="c5"><rect x="505.5" y="229.7" width="178.2" height="181.1"/></clipPath>
<polyline clip-path="url(#c5)" points="505.5,336.38 508.74,336.92 511.98,337.46 515.22,338 518.46,338.53 521.7,339.07 524.94,339.6 528.18,340.13 531.42,340.65 534.66,341.18 537.9,341.7 541.14,342.22 544.38,342.74 547.62,343.25 550.86,343.76 554.1,344.27 557.34,344.78 560.58,345.29 563.82,345.79 567.06,346.29 570.3,346.79 573.54,347.29 576.78,347.78 580.02,348.28 583.26,348.77 586.5,349.26 589.74,349.74 592.98,350.23 596.22,350.71 599.46,351.19 602.7,351.67 605.94,352.14 609.18,352.62 612.42,353.09 615.66,353.56 618.9,354.02 622.14,354.49 625.38,354.95 628.62,355.41 631.86,355.87 635.1,356.33 638.34,356.79 641.58,357.24 644.82,357.69 648.06,358.14 651.3,358.59 654.54,359.03 657.78,359.48 661.02,359.92 664.26,360.36 667.5,360.79 670.74,361.23 673.98,361.66 677.22,362.1 680.46,362.53 683.7,362.95" fill="none" stroke="#0000ff" stroke-width="3.0"/>
<rect x="505.5" y="229.7" width="178.2" height="181.1" fill="none" stroke="#444" stroke-width="1.25"/>
<path d="M505.5 229.1V410.8M504.9 410.8H684.3" fill="none" stroke="#000" stroke-width="1.1"/>
<path d="M505.5 230.25h3.0M505.5 238.06h3.0M505.5 245.86h5.8M505.5 253.67h3.0M505.5 261.47h3.0M505.5 269.28h3.0M505.5 277.08h5.8M505.5 284.88h3.0M505.5 292.69h3.0M505.5 300.5h3.0M505.5 308.3h5.8M505.5 316.11h3.0M505.5 323.91h3.0M505.5 331.72h3.0M505.5 339.52h5.8M505.5 347.32h3.0M505.5 355.13h3.0M505.5 362.94h3.0M505.5 370.74h5.8M505.5 378.55h3.0M505.5 386.35h3.0M505.5 394.15h3.0M505.5 401.96h5.8M505.5 409.76h3.0M505.5 410.8v-5.0M513.6 410.8v-2.4M521.7 410.8v-2.4M529.8 410.8v-2.4M537.9 410.8v-5.0M546 410.8v-2.4M554.1 410.8v-2.4M562.2 410.8v-2.4M570.3 410.8v-5.0M578.4 410.8v-2.4M586.5 410.8v-2.4M594.6 410.8v-2.4M602.7 410.8v-5.0M610.8 410.8v-2.4M618.9 410.8v-2.4M627 410.8v-2.4M635.1 410.8v-5.0M643.2 410.8v-2.4M651.3 410.8v-2.4M659.4 410.8v-2.4M667.5 410.8v-5.0M675.6 410.8v-2.4M683.7 410.8v-2.4" stroke="#111" stroke-width="1.15" fill="none"/>
<g font-size="13.1" text-anchor="end">
<text x="504.4" y="250.56">2600</text>
<text x="504.4" y="281.78">2400</text>
<text x="504.4" y="313">2200</text>
<text x="504.4" y="344.22">2000</text>
<text x="504.4" y="375.44">1800</text>
<text x="504.4" y="406.66">1600</text>
</g>
<g font-size="13.1" text-anchor="middle">
<text x="505.5" y="422.45">0</text>
<text x="537.9" y="422.45">200</text>
<text x="570.3" y="422.45">400</text>
<text x="602.7" y="422.45">600</text>
<text x="635.1" y="422.45">800</text>
<text x="667.5" y="422.45">1000</text>
</g>
<text transform="translate(683.8 440) scale(1.046 1)" font-size="13.9" word-spacing="0.15" text-anchor="end">days after August 3, 2017 (days)</text>
<text transform="translate(472.6 229.1) rotate(-90)" font-size="12.85" text-anchor="end">Events / ( 10 days )</text>
<text x="675.5" y="252.4" font-size="15.8" text-anchor="end">detector 5 [1 - 6] keV</text>
<text x="675.3" y="271.7" font-size="15.9" text-anchor="end">/ndf: 139.96/107</text>
<text x="560.47" y="266.8" font-size="10.1" text-anchor="end">2</text>
<text transform="translate(554.27 273.1) scale(1.1 1)" font-size="14" text-anchor="end">χ</text>
<text x="676.8" y="290.6" font-size="15.8" text-anchor="end">=0.018]</text>
<text x="623.65" y="298.6" font-size="10.1" text-anchor="end">val</text>
<text x="610.74" y="290.6" font-size="15.8" text-anchor="end">[p</text>
</g>
<g id="panel6">
<path d="M43.61 517.56V535.04M42.41 517.56h2.4M42.41 535.04h2.4M45.23 522.03V539.39M44.03 522.03h2.4M44.03 539.39h2.4M46.85 533.36V550.44M45.65 533.36h2.4M45.65 550.44h2.4M48.47 509.36V527.04M47.27 509.36h2.4M47.27 527.04h2.4M50.09 533.36V550.44M48.89 533.36h2.4M48.89 550.44h2.4M51.71 528.52V545.72M50.51 528.52h2.4M50.51 545.72h2.4M53.33 541.97V558.83M52.13 541.97h2.4M52.13 558.83h2.4M54.95 528.24V545.45M53.75 528.24h2.4M53.75 545.45h2.4M56.57 525.46V542.74M55.37 525.46h2.4M55.37 542.74h2.4M58.19 521.82V539.18M56.99 521.82h2.4M56.99 539.18h2.4M59.81 544.4V561.2M58.61 544.4h2.4M58.61 561.2h2.4M61.43 536.43V553.43M60.23 536.43h2.4M60.23 553.43h2.4M63.05 531.13V548.27M61.85 531.13h2.4M61.85 548.27h2.4M64.67 553.82V570.38M63.47 553.82h2.4M63.47 570.38h2.4M66.29 549.87V566.53M65.09 549.87h2.4M65.09 566.53h2.4M67.91 549.85V566.52M66.71 549.85h2.4M66.71 566.52h2.4M69.53 537.2V554.18M68.33 537.2h2.4M68.33 554.18h2.4M71.15 525.16V542.44M69.95 525.16h2.4M69.95 542.44h2.4M72.77 538.32V555.28M71.57 538.32h2.4M71.57 555.28h2.4M74.39 554.12V570.68M73.19 554.12h2.4M73.19 570.68h2.4M76.01 541.26V558.14M74.81 541.26h2.4M74.81 558.14h2.4M77.63 554.08V570.63M76.43 554.08h2.4M76.43 570.63h2.4M79.25 551.84V568.46M78.05 551.84h2.4M78.05 568.46h2.4M80.87 548.45V565.15M79.67 548.45h2.4M79.67 565.15h2.4M82.49 549.58V566.25M81.29 549.58h2.4M81.29 566.25h2.4M84.11 559.9V576.3M82.91 559.9h2.4M82.91 576.3h2.4M85.73 550.58V567.22M84.53 550.58h2.4M84.53 567.22h2.4M87.35 559.19V575.61M86.15 559.19h2.4M86.15 575.61h2.4M88.97 555.91V572.42M87.77 555.91h2.4M87.77 572.42h2.4M90.59 546.93V563.67M89.39 546.93h2.4M89.39 563.67h2.4M92.21 554.12V570.68M91.01 554.12h2.4M91.01 570.68h2.4M93.83 554.97V571.5M92.63 554.97h2.4M92.63 571.5h2.4M95.45 549.87V566.53M94.25 549.87h2.4M94.25 566.53h2.4M97.07 579.76V595.64M95.87 579.76h2.4M95.87 595.64h2.4M98.69 563.44V579.76M97.49 563.44h2.4M97.49 579.76h2.4M100.31 569.8V585.94M99.11 569.8h2.4M99.11 585.94h2.4M101.93 560.61V576.99M100.73 560.61h2.4M100.73 576.99h2.4M103.55 569.22V585.38M102.35 569.22h2.4M102.35 585.38h2.4M105.17 551.69V568.31M103.97 551.69h2.4M103.97 568.31h2.4M106.79 566.85V583.07M105.59 566.85h2.4M105.59 583.07h2.4M108.41 569.22V585.38M107.21 569.22h2.4M107.21 585.38h2.4M110.03 557.06V573.54M108.83 557.06h2.4M108.83 573.54h2.4M111.65 575.71V591.69M110.45 575.71h2.4M110.45 591.69h2.4M113.27 579.25V595.15M112.07 579.25h2.4M112.07 595.15h2.4M114.89 574.29V590.31M113.69 574.29h2.4M113.69 590.31h2.4M116.51 575.93V591.91M115.31 575.93h2.4M115.31 591.91h2.4M118.13 585.03V600.77M116.93 585.03h2.4M116.93 600.77h2.4M119.75 574.81V590.82M118.55 574.81h2.4M118.55 590.82h2.4M121.37 566.38V582.62M120.17 566.38h2.4M120.17 582.62h2.4M122.99 566.79V583.01M121.79 566.79h2.4M121.79 583.01h2.4M124.61 577.13V593.07M123.41 577.13h2.4M123.41 593.07h2.4M126.23 578.54V594.46M125.03 578.54h2.4M125.03 594.46h2.4M127.85 579.96V595.83M126.65 579.96h2.4M126.65 595.83h2.4M129.47 583.61V599.39M128.27 583.61h2.4M128.27 599.39h2.4M131.09 581.48V597.32M129.89 581.48h2.4M129.89 597.32h2.4M132.71 566.79V583.01M131.51 566.79h2.4M131.51 583.01h2.4M134.33 573.48V589.52M133.13 573.48h2.4M133.13 589.52h2.4M135.95 576.29V592.26M134.75 576.29h2.4M134.75 592.26h2.4M137.57 579.59V595.47M136.37 579.59h2.4M136.37 595.47h2.4M139.19 578.34V594.25M137.99 578.34h2.4M137.99 594.25h2.4M140.81 582.4V598.2M139.61 582.4h2.4M139.61 598.2h2.4M142.43 571.6V587.7M141.23 571.6h2.4M141.23 587.7h2.4M144.05 573.07V589.13M142.85 573.07h2.4M142.85 589.13h2.4M145.67 579.56V595.44M144.47 579.56h2.4M144.47 595.44h2.4M147.29 579.76V595.63M146.09 579.76h2.4M146.09 595.63h2.4M148.91 581.25V597.09M147.71 581.25h2.4M147.71 597.09h2.4M150.53 576.68V592.64M149.33 576.68h2.4M149.33 592.64h2.4M152.15 581.36V597.2M150.95 581.36h2.4M150.95 597.2h2.4M153.77 569.52V585.68M152.57 569.52h2.4M152.57 585.68h2.4M155.39 587.36V603.03M154.19 587.36h2.4M154.19 603.03h2.4M157.01 573.07V589.13M155.81 573.07h2.4M155.81 589.13h2.4M158.63 579.57V595.46M157.43 579.57h2.4M157.43 595.46h2.4M160.25 594.26V609.74M159.05 594.26h2.4M159.05 609.74h2.4M161.87 583.39V599.16M160.67 583.39h2.4M160.67 599.16h2.4M163.49 575.43V591.42M162.29 575.43h2.4M162.29 591.42h2.4M165.11 586.45V602.15M163.91 586.45h2.4M163.91 602.15h2.4M166.73 588.18V603.82M165.53 588.18h2.4M165.53 603.82h2.4M168.35 577.43V593.37M167.15 577.43h2.4M167.15 593.37h2.4M169.97 588.88V604.52M168.77 588.88h2.4M168.77 604.52h2.4M171.59 583.98V599.74M170.39 583.98h2.4M170.39 599.74h2.4M173.21 596.08V611.52M172.01 596.08h2.4M172.01 611.52h2.4M174.83 577.13V593.07M173.63 577.13h2.4M173.63 593.07h2.4M176.45 580.24V596.1M175.25 580.24h2.4M175.25 596.1h2.4M178.07 593.95V609.45M176.87 593.95h2.4M176.87 609.45h2.4M179.69 587.57V603.24M178.49 587.57h2.4M178.49 603.24h2.4M181.31 579.56V595.44M180.11 579.56h2.4M180.11 595.44h2.4M182.93 590.72V606.3M181.73 590.72h2.4M181.73 606.3h2.4M184.55 593.82V609.31M183.35 593.82h2.4M183.35 609.31h2.4M186.17 588.88V604.52M184.97 588.88h2.4M184.97 604.52h2.4M187.79 587.42V603.09M186.59 587.42h2.4M186.59 603.09h2.4M189.41 583.57V599.35M188.21 583.57h2.4M188.21 599.35h2.4M191.03 574.49V590.51M189.83 574.49h2.4M189.83 590.51h2.4M192.65 580.98V596.82M191.45 580.98h2.4M191.45 596.82h2.4M194.27 584.1V599.86M193.07 584.1h2.4M193.07 599.86h2.4M195.89 584.63V600.37M194.69 584.63h2.4M194.69 600.37h2.4M197.51 583.75V599.52M196.31 583.75h2.4M196.31 599.52h2.4M199.13 596.08V611.52M197.93 596.08h2.4M197.93 611.52h2.4M200.75 585.34V601.06M199.55 585.34h2.4M199.55 601.06h2.4M202.37 591.05V606.62M201.17 591.05h2.4M201.17 606.62h2.4M203.99 592.63V608.16M202.79 592.63h2.4M202.79 608.16h2.4M205.61 587.47V603.13M204.41 587.47h2.4M204.41 603.13h2.4M207.23 593.95V609.45M206.03 593.95h2.4M206.03 609.45h2.4M208.85 597.09V612.49M207.65 597.09h2.4M207.65 612.49h2.4M210.47 588.18V603.82M209.27 588.18h2.4M209.27 603.82h2.4M212.09 577.84V593.76M210.89 577.84h2.4M210.89 593.76h2.4M213.71 590.15V605.75M212.51 590.15h2.4M212.51 605.75h2.4M215.33 609.47V624.53M214.13 609.47h2.4M214.13 624.53h2.4M216.95 596.79V612.21M215.75 596.79h2.4M215.75 612.21h2.4M218.57 597.6V612.99M217.37 597.6h2.4M217.37 612.99h2.4M220.19 603.99V619.21M218.99 603.99h2.4M218.99 619.21h2.4" stroke="#000" stroke-width="0.9" fill="none"/>
<g fill="#000"><circle cx="43.61" cy="526.3" r="2.5"/><circle cx="45.23" cy="530.71" r="2.5"/><circle cx="46.85" cy="541.9" r="2.5"/><circle cx="48.47" cy="518.2" r="2.5"/><circle cx="50.09" cy="541.9" r="2.5"/><circle cx="51.71" cy="537.12" r="2.5"/><circle cx="53.33" cy="550.4" r="2.5"/><circle cx="54.95" cy="536.85" r="2.5"/><circle cx="56.57" cy="534.1" r="2.5"/><circle cx="58.19" cy="530.5" r="2.5"/><circle cx="59.81" cy="552.8" r="2.5"/><circle cx="61.43" cy="544.93" r="2.5"/><circle cx="63.05" cy="539.7" r="2.5"/><circle cx="64.67" cy="562.1" r="2.5"/><circle cx="66.29" cy="558.2" r="2.5"/><circle cx="67.91" cy="558.19" r="2.5"/><circle cx="69.53" cy="545.69" r="2.5"/><circle cx="71.15" cy="533.8" r="2.5"/><circle cx="72.77" cy="546.8" r="2.5"/><circle cx="74.39" cy="562.4" r="2.5"/><circle cx="76.01" cy="549.7" r="2.5"/><circle cx="77.63" cy="562.36" r="2.5"/><circle cx="79.25" cy="560.15" r="2.5"/><circle cx="80.87" cy="556.8" r="2.5"/><circle cx="82.49" cy="557.92" r="2.5"/><circle cx="84.11" cy="568.1" r="2.5"/><circle cx="85.73" cy="558.9" r="2.5"/><circle cx="87.35" cy="567.4" r="2.5"/><circle cx="88.97" cy="564.17" r="2.5"/><circle cx="90.59" cy="555.3" r="2.5"/><circle cx="92.21" cy="562.4" r="2.5"/><circle cx="93.83" cy="563.23" r="2.5"/><circle cx="95.45" cy="558.2" r="2.5"/><circle cx="97.07" cy="587.7" r="2.5"/><circle cx="98.69" cy="571.6" r="2.5"/><circle cx="100.31" cy="577.87" r="2.5"/><circle cx="101.93" cy="568.8" r="2.5"/><circle cx="103.55" cy="577.3" r="2.5"/><circle cx="105.17" cy="560" r="2.5"/><circle cx="106.79" cy="574.96" r="2.5"/><circle cx="108.41" cy="577.3" r="2.5"/><circle cx="110.03" cy="565.3" r="2.5"/><circle cx="111.65" cy="583.7" r="2.5"/><circle cx="113.27" cy="587.2" r="2.5"/><circle cx="114.89" cy="582.3" r="2.5"/><circle cx="116.51" cy="583.92" r="2.5"/><circle cx="118.13" cy="592.9" r="2.5"/><circle cx="119.75" cy="582.82" r="2.5"/><circle cx="121.37" cy="574.5" r="2.5"/><circle cx="122.99" cy="574.9" r="2.5"/><circle cx="124.61" cy="585.1" r="2.5"/><circle cx="126.23" cy="586.5" r="2.5"/><circle cx="127.85" cy="587.89" r="2.5"/><circle cx="129.47" cy="591.5" r="2.5"/><circle cx="131.09" cy="589.4" r="2.5"/><circle cx="132.71" cy="574.9" r="2.5"/><circle cx="134.33" cy="581.5" r="2.5"/><circle cx="135.95" cy="584.28" r="2.5"/><circle cx="137.57" cy="587.53" r="2.5"/><circle cx="139.19" cy="586.3" r="2.5"/><circle cx="140.81" cy="590.3" r="2.5"/><circle cx="142.43" cy="579.65" r="2.5"/><circle cx="144.05" cy="581.1" r="2.5"/><circle cx="145.67" cy="587.5" r="2.5"/><circle cx="147.29" cy="587.69" r="2.5"/><circle cx="148.91" cy="589.17" r="2.5"/><circle cx="150.53" cy="584.66" r="2.5"/><circle cx="152.15" cy="589.28" r="2.5"/><circle cx="153.77" cy="577.6" r="2.5"/><circle cx="155.39" cy="595.2" r="2.5"/><circle cx="157.01" cy="581.1" r="2.5"/><circle cx="158.63" cy="587.52" r="2.5"/><circle cx="160.25" cy="602" r="2.5"/><circle cx="161.87" cy="591.28" r="2.5"/><circle cx="163.49" cy="583.43" r="2.5"/><circle cx="165.11" cy="594.3" r="2.5"/><circle cx="166.73" cy="596" r="2.5"/><circle cx="168.35" cy="585.4" r="2.5"/><circle cx="169.97" cy="596.7" r="2.5"/><circle cx="171.59" cy="591.86" r="2.5"/><circle cx="173.21" cy="603.8" r="2.5"/><circle cx="174.83" cy="585.1" r="2.5"/><circle cx="176.45" cy="588.17" r="2.5"/><circle cx="178.07" cy="601.7" r="2.5"/><circle cx="179.69" cy="595.41" r="2.5"/><circle cx="181.31" cy="587.5" r="2.5"/><circle cx="182.93" cy="598.51" r="2.5"/><circle cx="184.55" cy="601.57" r="2.5"/><circle cx="186.17" cy="596.7" r="2.5"/><circle cx="187.79" cy="595.26" r="2.5"/><circle cx="189.41" cy="591.46" r="2.5"/><circle cx="191.03" cy="582.5" r="2.5"/><circle cx="192.65" cy="588.9" r="2.5"/><circle cx="194.27" cy="591.98" r="2.5"/><circle cx="195.89" cy="592.5" r="2.5"/><circle cx="197.51" cy="591.63" r="2.5"/><circle cx="199.13" cy="603.8" r="2.5"/><circle cx="200.75" cy="593.2" r="2.5"/><circle cx="202.37" cy="598.84" r="2.5"/><circle cx="203.99" cy="600.4" r="2.5"/><circle cx="205.61" cy="595.3" r="2.5"/><circle cx="207.23" cy="601.7" r="2.5"/><circle cx="208.85" cy="604.79" r="2.5"/><circle cx="210.47" cy="596" r="2.5"/><circle cx="212.09" cy="585.8" r="2.5"/><circle cx="213.71" cy="597.95" r="2.5"/><circle cx="215.33" cy="617" r="2.5"/><circle cx="216.95" cy="604.5" r="2.5"/><circle cx="218.57" cy="605.3" r="2.5"/><circle cx="220.19" cy="611.6" r="2.5"/></g>
<clipPath id="c6"><rect x="42.8" y="456.2" width="178.2" height="181.1"/></clipPath>
<polyline clip-path="url(#c6)" points="42.8,521.96 46.04,526.63 49.28,530.96 52.52,534.96 55.76,538.67 59,542.12 62.24,545.31 65.48,548.28 68.72,551.05 71.96,553.63 75.2,556.04 78.44,558.29 81.68,560.4 84.92,562.38 88.16,564.24 91.4,565.98 94.64,567.63 97.88,569.19 101.12,570.67 104.36,572.06 107.6,573.39 110.84,574.66 114.08,575.87 117.32,577.02 120.56,578.12 123.8,579.18 127.04,580.2 130.28,581.19 133.52,582.13 136.76,583.05 140,583.94 143.24,584.81 146.48,585.64 149.72,586.46 152.96,587.26 156.2,588.04 159.44,588.8 162.68,589.55 165.92,590.29 169.16,591.01 172.4,591.72 175.64,592.42 178.88,593.11 182.12,593.79 185.36,594.47 188.6,595.13 191.84,595.79 195.08,596.44 198.32,597.09 201.56,597.73 204.8,598.37 208.04,599.01 211.28,599.64 214.52,600.26 217.76,600.88 221,601.5" fill="none" stroke="#0000ff" stroke-width="3.0"/>
<rect x="42.8" y="456.2" width="178.2" height="181.1" fill="none" stroke="#444" stroke-width="1.25"/>
<path d="M42.8 455.6V637.3M42.2 637.3H221.6" fill="none" stroke="#000" stroke-width="1.1"/>
<path d="M42.8 459.36h3.0M42.8 463.08h3.0M42.8 466.79h3.0M42.8 470.5h5.8M42.8 474.21h3.0M42.8 477.92h3.0M42.8 481.64h3.0M42.8 485.35h3.0M42.8 489.06h5.8M42.8 492.77h3.0M42.8 496.48h3.0M42.8 500.2h3.0M42.8 503.91h3.0M42.8 507.62h5.8M42.8 511.33h3.0M42.8 515.04h3.0M42.8 518.76h3.0M42.8 522.47h3.0M42.8 526.18h5.8M42.8 529.89h3.0M42.8 533.6h3.0M42.8 537.32h3.0M42.8 541.03h3.0M42.8 544.74h5.8M42.8 548.45h3.0M42.8 552.16h3.0M42.8 555.88h3.0M42.8 559.59h3.0M42.8 563.3h5.8M42.8 567.01h3.0M42.8 570.72h3.0M42.8 574.44h3.0M42.8 578.15h3.0M42.8 581.86h5.8M42.8 585.57h3.0M42.8 589.28h3.0M42.8 593h3.0M42.8 596.71h3.0M42.8 600.42h5.8M42.8 604.13h3.0M42.8 607.84h3.0M42.8 611.56h3.0M42.8 615.27h3.0M42.8 618.98h5.8M42.8 622.69h3.0M42.8 626.4h3.0M42.8 630.12h3.0M42.8 633.83h3.0M42.8 637.54h5.8M42.8 637.3v-5.0M50.9 637.3v-2.4M59 637.3v-2.4M67.1 637.3v-2.4M75.2 637.3v-5.0M83.3 637.3v-2.4M91.4 637.3v-2.4M99.5 637.3v-2.4M107.6 637.3v-5.0M115.7 637.3v-2.4M123.8 637.3v-2.4M131.9 637.3v-2.4M140 637.3v-5.0M148.1 637.3v-2.4M156.2 637.3v-2.4M164.3 637.3v-2.4M172.4 637.3v-5.0M180.5 637.3v-2.4M188.6 637.3v-2.4M196.7 637.3v-2.4M204.8 637.3v-5.0M212.9 637.3v-2.4M221 637.3v-2.4" stroke="#111" stroke-width="1.15" fill="none"/>
<g font-size="13.1" text-anchor="end">
<text x="41.7" y="475.2">2200</text>
<text x="41.7" y="493.76">2100</text>
<text x="41.7" y="512.32">2000</text>
<text x="41.7" y="530.88">1900</text>
<text x="41.7" y="549.44">1800</text>
<text x="41.7" y="568">1700</text>
<text x="41.7" y="586.56">1600</text>
<text x="41.7" y="605.12">1500</text>
<text x="41.7" y="623.68">1400</text>
</g>
<g font-size="13.1" text-anchor="middle">
<text x="42.8" y="648.35">0</text>
<text x="75.2" y="648.35">200</text>
<text x="107.6" y="648.35">400</text>
<text x="140" y="648.35">600</text>
<text x="172.4" y="648.35">800</text>
<text x="204.8" y="648.35">1000</text>
</g>
<text transform="translate(221.1 665.9) scale(1.046 1)" font-size="13.9" word-spacing="0.15" text-anchor="end">days after August 3, 2017 (days)</text>
<text transform="translate(9.9 455.6) rotate(-90)" font-size="12.85" text-anchor="end">Events / ( 10 days )</text>
<text x="212.5" y="479.3" font-size="15.8" text-anchor="end">detector 6 [1 - 6] keV</text>
<text x="212.3" y="498.6" font-size="15.9" text-anchor="end">/ndf: 88.57/107</text>
<text x="106.31" y="493.7" font-size="10.1" text-anchor="end">2</text>
<text transform="translate(100.11 500) scale(1.1 1)" font-size="14" text-anchor="end">χ</text>
<text x="213.8" y="517.5" font-size="15.8" text-anchor="end">=0.902]</text>
<text x="160.65" y="525.5" font-size="10.1" text-anchor="end">val</text>
<text x="147.74" y="517.5" font-size="15.8" text-anchor="end">[p</text>
</g>
<g id="panel7">
<path d="M275.01 513.91V532.29M273.81 513.91h2.4M273.81 532.29h2.4M276.63 538.64V556.36M275.43 538.64h2.4M275.43 556.36h2.4M278.25 529.89V547.85M277.05 529.89h2.4M277.05 547.85h2.4M279.87 534.38V552.22M278.67 534.38h2.4M278.67 552.22h2.4M281.49 530.91V548.84M280.29 530.91h2.4M280.29 548.84h2.4M283.11 519.28V537.52M281.91 519.28h2.4M281.91 537.52h2.4M284.73 531.3V549.22M283.53 531.3h2.4M283.53 549.22h2.4M286.35 523.54V541.66M285.15 523.54h2.4M285.15 541.66h2.4M287.97 551.3V568.7M286.77 551.3h2.4M286.77 568.7h2.4M289.59 529.72V547.68M288.39 529.72h2.4M288.39 547.68h2.4M291.21 540.77V558.44M290.01 540.77h2.4M290.01 558.44h2.4M292.83 554.95V572.25M291.63 554.95h2.4M291.63 572.25h2.4M294.45 546.97V564.48M293.25 546.97h2.4M293.25 564.48h2.4M296.07 558.1V575.3M294.87 558.1h2.4M294.87 575.3h2.4M297.69 538.69V556.42M296.49 538.69h2.4M296.49 556.42h2.4M299.31 539.35V557.05M298.11 539.35h2.4M298.11 557.05h2.4M300.93 543.8V561.39M299.73 543.8h2.4M299.73 561.39h2.4M302.55 553.03V570.37M301.35 553.03h2.4M301.35 570.37h2.4M304.17 547.18V564.68M302.97 547.18h2.4M302.97 564.68h2.4M305.79 542.28V559.92M304.59 542.28h2.4M304.59 559.92h2.4M307.41 550.28V567.69M306.21 550.28h2.4M306.21 567.69h2.4M309.03 545.12V562.68M307.83 545.12h2.4M307.83 562.68h2.4M310.65 539.35V557.05M309.45 539.35h2.4M309.45 557.05h2.4M312.27 557.39V574.61M311.07 557.39h2.4M311.07 574.61h2.4M313.89 548.77V566.23M312.69 548.77h2.4M312.69 566.23h2.4M315.51 554.75V572.05M314.31 554.75h2.4M314.31 572.05h2.4M317.13 550.19V567.61M315.93 550.19h2.4M315.93 567.61h2.4M318.75 564.99V582.01M317.55 564.99h2.4M317.55 582.01h2.4M320.37 548.6V566.07M319.17 548.6h2.4M319.17 566.07h2.4M321.99 552.32V569.68M320.79 552.32h2.4M320.79 569.68h2.4M323.61 552.01V569.38M322.41 552.01h2.4M322.41 569.38h2.4M325.23 568.13V585.07M324.03 568.13h2.4M324.03 585.07h2.4M326.85 551.84V569.22M325.65 551.84h2.4M325.65 569.22h2.4M328.47 550.19V567.61M327.27 550.19h2.4M327.27 567.61h2.4M330.09 568.13V585.07M328.89 568.13h2.4M328.89 585.07h2.4M331.71 563.55V580.6M330.51 563.55h2.4M330.51 580.6h2.4M333.33 575.33V592.07M332.13 575.33h2.4M332.13 592.07h2.4M334.95 553.03V570.37M333.75 553.03h2.4M333.75 570.37h2.4M336.57 556.08V573.34M335.37 556.08h2.4M335.37 573.34h2.4M338.19 556.68V573.92M336.99 556.68h2.4M336.99 573.92h2.4M339.81 544.82V562.38M338.61 544.82h2.4M338.61 562.38h2.4M341.43 562.35V579.45M340.23 562.35h2.4M340.23 579.45h2.4M343.05 570.76V587.62M341.85 570.76h2.4M341.85 587.62h2.4M344.67 568.66V585.58M343.47 568.66h2.4M343.47 585.58h2.4M346.29 560.51V577.65M345.09 560.51h2.4M345.09 577.65h2.4M347.91 569.76V586.65M346.71 569.76h2.4M346.71 586.65h2.4M349.53 576.7V593.39M348.33 576.7h2.4M348.33 593.39h2.4M351.15 555.16V572.44M349.95 555.16h2.4M349.95 572.44h2.4M352.77 576.55V593.24M351.57 576.55h2.4M351.57 593.24h2.4M354.39 574.32V591.08M353.19 574.32h2.4M353.19 591.08h2.4M356.01 560.23V577.37M354.81 560.23h2.4M354.81 577.37h2.4M357.63 576.52V593.22M356.43 576.52h2.4M356.43 593.22h2.4M359.25 560.23V577.37M358.05 560.23h2.4M358.05 577.37h2.4M360.87 581.83V598.37M359.67 581.83h2.4M359.67 598.37h2.4M362.49 564.08V581.12M361.29 564.08h2.4M361.29 581.12h2.4M364.11 578.17V594.83M362.91 578.17h2.4M362.91 594.83h2.4M365.73 576.74V593.43M364.53 576.74h2.4M364.53 593.43h2.4M367.35 569.86V586.74M366.15 569.86h2.4M366.15 586.74h2.4M368.97 567.2V584.16M367.77 567.2h2.4M367.77 584.16h2.4M370.59 568.64V585.56M369.39 568.64h2.4M369.39 585.56h2.4M372.21 570.78V587.64M371.01 570.78h2.4M371.01 587.64h2.4M373.83 592.17V608.43M372.63 592.17h2.4M372.63 608.43h2.4M375.45 569.86V586.74M374.25 569.86h2.4M374.25 586.74h2.4M377.07 575.27V592M375.87 575.27h2.4M375.87 592h2.4M378.69 582.03V598.57M377.49 582.03h2.4M377.49 598.57h2.4M380.31 581.28V597.84M379.11 581.28h2.4M379.11 597.84h2.4M381.93 586.39V602.81M380.73 586.39h2.4M380.73 602.81h2.4M383.55 585.9V602.33M382.35 585.9h2.4M382.35 602.33h2.4M385.17 559.82V576.98M383.97 559.82h2.4M383.97 576.98h2.4M386.79 589.94V606.26M385.59 589.94h2.4M385.59 606.26h2.4M388.41 577.38V594.05M387.21 577.38h2.4M387.21 594.05h2.4M390.03 574.12V590.88M388.83 574.12h2.4M388.83 590.88h2.4M391.65 577.4V594.08M390.45 577.4h2.4M390.45 594.08h2.4M393.27 587.1V603.5M392.07 587.1h2.4M392.07 603.5h2.4M394.89 572.7V589.5M393.69 572.7h2.4M393.69 589.5h2.4M396.51 587.59V603.97M395.31 587.59h2.4M395.31 603.97h2.4M398.13 593.19V609.41M396.93 593.19h2.4M396.93 609.41h2.4M399.75 573.41V590.19M398.55 573.41h2.4M398.55 590.19h2.4M401.37 582.22V598.76M400.17 582.22h2.4M400.17 598.76h2.4M402.99 585.26V601.71M401.79 585.26h2.4M401.79 601.71h2.4M404.61 569.86V586.74M403.41 569.86h2.4M403.41 586.74h2.4M406.23 577.77V594.43M405.03 577.77h2.4M405.03 594.43h2.4M407.85 600.09V616.11M406.65 600.09h2.4M406.65 616.11h2.4M409.47 584.99V601.45M408.27 584.99h2.4M408.27 601.45h2.4M411.09 572.29V589.11M409.89 572.29h2.4M409.89 589.11h2.4M412.71 592.17V608.43M411.51 592.17h2.4M411.51 608.43h2.4M414.33 577.26V593.94M413.13 577.26h2.4M413.13 593.94h2.4M415.95 589.29V605.63M414.75 589.29h2.4M414.75 605.63h2.4M417.57 593V609.23M416.37 593h2.4M416.37 609.23h2.4M419.19 577.36V594.04M417.99 577.36h2.4M417.99 594.04h2.4M420.81 582.49V599.02M419.61 582.49h2.4M419.61 599.02h2.4M422.43 587.64V604.02M421.23 587.64h2.4M421.23 604.02h2.4M424.05 593.19V609.41M422.85 593.19h2.4M422.85 609.41h2.4M425.67 583.45V599.96M424.47 583.45h2.4M424.47 599.96h2.4M427.29 584.26V600.74M426.09 584.26h2.4M426.09 600.74h2.4M428.91 579.75V596.35M427.71 579.75h2.4M427.71 596.35h2.4M430.53 580.97V597.54M429.33 580.97h2.4M429.33 597.54h2.4M432.15 597.15V613.25M430.95 597.15h2.4M430.95 613.25h2.4M433.77 584.97V601.43M432.57 584.97h2.4M432.57 601.43h2.4M435.39 581.09V597.66M434.19 581.09h2.4M434.19 597.66h2.4M437.01 602.52V618.48M435.81 602.52h2.4M435.81 618.48h2.4M438.63 587.28V603.68M437.43 587.28h2.4M437.43 603.68h2.4M440.25 587.76V604.14M439.05 587.76h2.4M439.05 604.14h2.4M441.87 588.44V604.8M440.67 588.44h2.4M440.67 604.8h2.4M443.49 594.47V610.66M442.29 594.47h2.4M442.29 610.66h2.4M445.11 582.78V599.3M443.91 582.78h2.4M443.91 599.3h2.4M446.73 601.51V617.49M445.53 601.51h2.4M445.53 617.49h2.4M448.35 601.51V617.49M447.15 601.51h2.4M447.15 617.49h2.4M449.97 573.91V590.69M448.77 573.91h2.4M448.77 590.69h2.4M451.59 591.46V607.74M450.39 591.46h2.4M450.39 607.74h2.4" stroke="#000" stroke-width="0.9" fill="none"/>
<g fill="#000"><circle cx="275.01" cy="523.1" r="2.5"/><circle cx="276.63" cy="547.5" r="2.5"/><circle cx="278.25" cy="538.87" r="2.5"/><circle cx="279.87" cy="543.3" r="2.5"/><circle cx="281.49" cy="539.87" r="2.5"/><circle cx="283.11" cy="528.4" r="2.5"/><circle cx="284.73" cy="540.26" r="2.5"/><circle cx="286.35" cy="532.6" r="2.5"/><circle cx="287.97" cy="560" r="2.5"/><circle cx="289.59" cy="538.7" r="2.5"/><circle cx="291.21" cy="549.61" r="2.5"/><circle cx="292.83" cy="563.6" r="2.5"/><circle cx="294.45" cy="555.72" r="2.5"/><circle cx="296.07" cy="566.7" r="2.5"/><circle cx="297.69" cy="547.56" r="2.5"/><circle cx="299.31" cy="548.2" r="2.5"/><circle cx="300.93" cy="552.59" r="2.5"/><circle cx="302.55" cy="561.7" r="2.5"/><circle cx="304.17" cy="555.93" r="2.5"/><circle cx="305.79" cy="551.1" r="2.5"/><circle cx="307.41" cy="558.99" r="2.5"/><circle cx="309.03" cy="553.9" r="2.5"/><circle cx="310.65" cy="548.2" r="2.5"/><circle cx="312.27" cy="566" r="2.5"/><circle cx="313.89" cy="557.5" r="2.5"/><circle cx="315.51" cy="563.4" r="2.5"/><circle cx="317.13" cy="558.9" r="2.5"/><circle cx="318.75" cy="573.5" r="2.5"/><circle cx="320.37" cy="557.34" r="2.5"/><circle cx="321.99" cy="561" r="2.5"/><circle cx="323.61" cy="560.69" r="2.5"/><circle cx="325.23" cy="576.6" r="2.5"/><circle cx="326.85" cy="560.53" r="2.5"/><circle cx="328.47" cy="558.9" r="2.5"/><circle cx="330.09" cy="576.6" r="2.5"/><circle cx="331.71" cy="572.07" r="2.5"/><circle cx="333.33" cy="583.7" r="2.5"/><circle cx="334.95" cy="561.7" r="2.5"/><circle cx="336.57" cy="564.71" r="2.5"/><circle cx="338.19" cy="565.3" r="2.5"/><circle cx="339.81" cy="553.6" r="2.5"/><circle cx="341.43" cy="570.9" r="2.5"/><circle cx="343.05" cy="579.19" r="2.5"/><circle cx="344.67" cy="577.12" r="2.5"/><circle cx="346.29" cy="569.08" r="2.5"/><circle cx="347.91" cy="578.21" r="2.5"/><circle cx="349.53" cy="585.04" r="2.5"/><circle cx="351.15" cy="563.8" r="2.5"/><circle cx="352.77" cy="584.89" r="2.5"/><circle cx="354.39" cy="582.7" r="2.5"/><circle cx="356.01" cy="568.8" r="2.5"/><circle cx="357.63" cy="584.87" r="2.5"/><circle cx="359.25" cy="568.8" r="2.5"/><circle cx="360.87" cy="590.1" r="2.5"/><circle cx="362.49" cy="572.6" r="2.5"/><circle cx="364.11" cy="586.5" r="2.5"/><circle cx="365.73" cy="585.08" r="2.5"/><circle cx="367.35" cy="578.3" r="2.5"/><circle cx="368.97" cy="575.68" r="2.5"/><circle cx="370.59" cy="577.1" r="2.5"/><circle cx="372.21" cy="579.21" r="2.5"/><circle cx="373.83" cy="600.3" r="2.5"/><circle cx="375.45" cy="578.3" r="2.5"/><circle cx="377.07" cy="583.63" r="2.5"/><circle cx="378.69" cy="590.3" r="2.5"/><circle cx="380.31" cy="589.56" r="2.5"/><circle cx="381.93" cy="594.6" r="2.5"/><circle cx="383.55" cy="594.12" r="2.5"/><circle cx="385.17" cy="568.4" r="2.5"/><circle cx="386.79" cy="598.1" r="2.5"/><circle cx="388.41" cy="585.71" r="2.5"/><circle cx="390.03" cy="582.5" r="2.5"/><circle cx="391.65" cy="585.74" r="2.5"/><circle cx="393.27" cy="595.3" r="2.5"/><circle cx="394.89" cy="581.1" r="2.5"/><circle cx="396.51" cy="595.78" r="2.5"/><circle cx="398.13" cy="601.3" r="2.5"/><circle cx="399.75" cy="581.8" r="2.5"/><circle cx="401.37" cy="590.49" r="2.5"/><circle cx="402.99" cy="593.49" r="2.5"/><circle cx="404.61" cy="578.3" r="2.5"/><circle cx="406.23" cy="586.1" r="2.5"/><circle cx="407.85" cy="608.1" r="2.5"/><circle cx="409.47" cy="593.22" r="2.5"/><circle cx="411.09" cy="580.7" r="2.5"/><circle cx="412.71" cy="600.3" r="2.5"/><circle cx="414.33" cy="585.6" r="2.5"/><circle cx="415.95" cy="597.46" r="2.5"/><circle cx="417.57" cy="601.11" r="2.5"/><circle cx="419.19" cy="585.7" r="2.5"/><circle cx="420.81" cy="590.75" r="2.5"/><circle cx="422.43" cy="595.83" r="2.5"/><circle cx="424.05" cy="601.3" r="2.5"/><circle cx="425.67" cy="591.71" r="2.5"/><circle cx="427.29" cy="592.5" r="2.5"/><circle cx="428.91" cy="588.05" r="2.5"/><circle cx="430.53" cy="589.26" r="2.5"/><circle cx="432.15" cy="605.2" r="2.5"/><circle cx="433.77" cy="593.2" r="2.5"/><circle cx="435.39" cy="589.38" r="2.5"/><circle cx="437.01" cy="610.5" r="2.5"/><circle cx="438.63" cy="595.48" r="2.5"/><circle cx="440.25" cy="595.95" r="2.5"/><circle cx="441.87" cy="596.62" r="2.5"/><circle cx="443.49" cy="602.57" r="2.5"/><circle cx="445.11" cy="591.04" r="2.5"/><circle cx="446.73" cy="609.5" r="2.5"/><circle cx="448.35" cy="609.5" r="2.5"/><circle cx="449.97" cy="582.3" r="2.5"/><circle cx="451.59" cy="599.6" r="2.5"/></g>
<clipPath id="c7"><rect x="274.2" y="456.2" width="178.2" height="181.1"/></clipPath>
<polyline clip-path="url(#c7)" points="274.2,525.43 277.44,529.77 280.68,533.79 283.92,537.51 287.16,540.96 290.4,544.17 293.64,547.16 296.88,549.93 300.12,552.52 303.36,554.94 306.6,557.2 309.84,559.31 313.08,561.29 316.32,563.15 319.56,564.9 322.8,566.55 326.04,568.1 329.28,569.57 332.52,570.96 335.76,572.28 339,573.53 342.24,574.72 345.48,575.86 348.72,576.95 351.96,577.99 355.2,578.99 358.44,579.95 361.68,580.88 364.92,581.77 368.16,582.64 371.4,583.47 374.64,584.29 377.88,585.07 381.12,585.84 384.36,586.59 387.6,587.33 390.84,588.04 394.08,588.74 397.32,589.43 400.56,590.11 403.8,590.77 407.04,591.43 410.28,592.07 413.52,592.71 416.76,593.34 420,593.96 423.24,594.58 426.48,595.18 429.72,595.79 432.96,596.39 436.2,596.98 439.44,597.57 442.68,598.15 445.92,598.74 449.16,599.31 452.4,599.89" fill="none" stroke="#0000ff" stroke-width="3.0"/>
<rect x="274.2" y="456.2" width="178.2" height="181.1" fill="none" stroke="#444" stroke-width="1.25"/>
<path d="M274.2 455.6V637.3M273.6 637.3H453" fill="none" stroke="#000" stroke-width="1.1"/>
<path d="M274.2 459.54h3.0M274.2 463.61h3.0M274.2 467.68h3.0M274.2 471.75h5.8M274.2 475.82h3.0M274.2 479.89h3.0M274.2 483.96h3.0M274.2 488.03h3.0M274.2 492.09h5.8M274.2 496.16h3.0M274.2 500.23h3.0M274.2 504.3h3.0M274.2 508.37h3.0M274.2 512.44h5.8M274.2 516.51h3.0M274.2 520.58h3.0M274.2 524.64h3.0M274.2 528.71h3.0M274.2 532.78h5.8M274.2 536.85h3.0M274.2 540.92h3.0M274.2 544.99h3.0M274.2 549.06h3.0M274.2 553.13h5.8M274.2 557.19h3.0M274.2 561.26h3.0M274.2 565.33h3.0M274.2 569.4h3.0M274.2 573.47h5.8M274.2 577.54h3.0M274.2 581.61h3.0M274.2 585.68h3.0M274.2 589.75h3.0M274.2 593.81h5.8M274.2 597.88h3.0M274.2 601.95h3.0M274.2 606.02h3.0M274.2 610.09h3.0M274.2 614.16h5.8M274.2 618.23h3.0M274.2 622.3h3.0M274.2 626.36h3.0M274.2 630.43h3.0M274.2 634.5h5.8M274.2 637.3v-5.0M282.3 637.3v-2.4M290.4 637.3v-2.4M298.5 637.3v-2.4M306.6 637.3v-5.0M314.7 637.3v-2.4M322.8 637.3v-2.4M330.9 637.3v-2.4M339 637.3v-5.0M347.1 637.3v-2.4M355.2 637.3v-2.4M363.3 637.3v-2.4M371.4 637.3v-5.0M379.5 637.3v-2.4M387.6 637.3v-2.4M395.7 637.3v-2.4M403.8 637.3v-5.0M411.9 637.3v-2.4M420 637.3v-2.4M428.1 637.3v-2.4M436.2 637.3v-5.0M444.3 637.3v-2.4M452.4 637.3v-2.4" stroke="#111" stroke-width="1.15" fill="none"/>
<g font-size="13.1" text-anchor="end">
<text x="273.1" y="476.45">2000</text>
<text x="273.1" y="496.79">1900</text>
<text x="273.1" y="517.14">1800</text>
<text x="273.1" y="537.48">1700</text>
<text x="273.1" y="557.83">1600</text>
<text x="273.1" y="578.17">1500</text>
<text x="273.1" y="598.51">1400</text>
<text x="273.1" y="618.86">1300</text>
<text x="273.1" y="639.2">1200</text>
</g>
<g font-size="13.1" text-anchor="middle">
<text x="274.2" y="648.35">0</text>
<text x="306.6" y="648.35">200</text>
<text x="339" y="648.35">400</text>
<text x="371.4" y="648.35">600</text>
<text x="403.8" y="648.35">800</text>
<text x="436.2" y="648.35">1000</text>
</g>
<text transform="translate(452.5 665.9) scale(1.046 1)" font-size="13.9" word-spacing="0.15" text-anchor="end">days after August 3, 2017 (days)</text>
<text transform="translate(241.3 455.6) rotate(-90)" font-size="12.85" text-anchor="end">Events / ( 10 days )</text>
<text x="443.9" y="479.3" font-size="15.8" text-anchor="end">detector 7 [1 - 6] keV</text>
<text x="443.7" y="498.6" font-size="15.9" text-anchor="end">/ndf: 103.70/107</text>
<text x="328.87" y="493.7" font-size="10.1" text-anchor="end">2</text>
<text transform="translate(322.67 500) scale(1.1 1)" font-size="14" text-anchor="end">χ</text>
<text x="445.2" y="517.5" font-size="15.8" text-anchor="end">=0.572]</text>
<text x="392.05" y="525.5" font-size="10.1" text-anchor="end">val</text>
<text x="379.14" y="517.5" font-size="15.8" text-anchor="end">[p</text>
</g>
<g id="panel8">
<path d="M506.31 513.56V533.24M505.11 513.56h2.4M505.11 533.24h2.4M507.93 523.6V543M506.73 523.6h2.4M506.73 543h2.4M509.55 502.11V522.09M508.35 502.11h2.4M508.35 522.09h2.4M511.17 527.96V547.24M509.97 527.96h2.4M509.97 547.24h2.4M512.79 525.02V544.38M511.59 525.02h2.4M511.59 544.38h2.4M514.41 520.93V540.41M513.21 520.93h2.4M513.21 540.41h2.4M516.03 526.68V546M514.83 526.68h2.4M514.83 546h2.4M517.65 514.27V533.93M516.45 514.27h2.4M516.45 533.93h2.4M519.27 539.42V558.38M518.07 539.42h2.4M518.07 558.38h2.4M520.89 500.58V520.62M519.69 500.58h2.4M519.69 520.62h2.4M522.51 519.34V538.86M521.31 519.34h2.4M521.31 538.86h2.4M524.13 558.9V577.3M522.93 558.9h2.4M522.93 577.3h2.4M525.75 527.96V547.24M524.55 527.96h2.4M524.55 547.24h2.4M527.37 524.31V543.69M526.17 524.31h2.4M526.17 543.69h2.4M528.99 547.34V566.06M527.79 547.34h2.4M527.79 566.06h2.4M530.61 537.14V556.16M529.41 537.14h2.4M529.41 556.16h2.4M532.23 531.92V551.08M531.03 531.92h2.4M531.03 551.08h2.4M533.85 547.34V566.06M532.65 547.34h2.4M532.65 566.06h2.4M535.47 535.18V554.25M534.27 535.18h2.4M534.27 554.25h2.4M537.09 540.44V559.36M535.89 540.44h2.4M535.89 559.36h2.4M538.71 558.6V577M537.51 558.6h2.4M537.51 577h2.4M540.33 554.54V573.06M539.13 554.54h2.4M539.13 573.06h2.4M541.95 564.28V582.52M540.75 564.28h2.4M540.75 582.52h2.4M543.57 564.59V582.81M542.37 564.59h2.4M542.37 582.81h2.4M545.19 542.36V561.24M543.99 542.36h2.4M543.99 561.24h2.4M546.81 552.47V571.05M545.61 552.47h2.4M545.61 571.05h2.4M548.43 543.79V562.61M547.23 543.79h2.4M547.23 562.61h2.4M550.05 548.55V567.25M548.85 548.55h2.4M548.85 567.25h2.4M551.67 550.29V568.93M550.47 550.29h2.4M550.47 568.93h2.4M553.29 546.63V565.37M552.09 546.63h2.4M552.09 565.37h2.4M554.91 548.98V567.66M553.71 548.98h2.4M553.71 567.66h2.4M556.53 548.47V567.17M555.33 548.47h2.4M555.33 567.17h2.4M558.15 553.12V571.68M556.95 553.12h2.4M556.95 571.68h2.4M559.77 558.54V576.94M558.57 558.54h2.4M558.57 576.94h2.4M561.39 564.84V583.05M560.19 564.84h2.4M560.19 583.05h2.4M563.01 560.47V578.82M561.81 560.47h2.4M561.81 578.82h2.4M564.63 557.99V576.41M563.43 557.99h2.4M563.43 576.41h2.4M566.25 558.55V576.95M565.05 558.55h2.4M565.05 576.95h2.4M567.87 580.02V597.78M566.67 580.02h2.4M566.67 597.78h2.4M569.49 548.76V567.44M568.29 548.76h2.4M568.29 567.44h2.4M571.11 567.53V585.67M569.91 567.53h2.4M569.91 585.67h2.4M572.73 558.9V577.3M571.53 558.9h2.4M571.53 577.3h2.4M574.35 579.71V597.49M573.15 579.71h2.4M573.15 597.49h2.4M575.97 577.58V595.42M574.77 577.58h2.4M574.77 595.42h2.4M577.59 571.8V589.8M576.39 571.8h2.4M576.39 589.8h2.4M579.21 560.75V579.09M578.01 560.75h2.4M578.01 579.09h2.4M580.83 559.65V578.02M579.63 559.65h2.4M579.63 578.02h2.4M582.45 561.34V579.66M581.25 561.34h2.4M581.25 579.66h2.4M584.07 562.86V581.13M582.87 562.86h2.4M582.87 581.13h2.4M585.69 584.08V601.72M584.49 584.08h2.4M584.49 601.72h2.4M587.31 572.11V590.11M586.11 572.11h2.4M586.11 590.11h2.4M588.93 572.81V590.79M587.73 572.81h2.4M587.73 590.79h2.4M590.55 561.34V579.66M589.35 561.34h2.4M589.35 579.66h2.4M592.17 582.96V600.64M590.97 582.96h2.4M590.97 600.64h2.4M593.79 581.85V599.55M592.59 581.85h2.4M592.59 599.55h2.4M595.41 582.96V600.64M594.21 582.96h2.4M594.21 600.64h2.4M597.03 563.88V582.12M595.83 563.88h2.4M595.83 582.12h2.4M598.65 582.9V600.57M597.45 582.9h2.4M597.45 600.57h2.4M600.27 578.6V596.4M599.07 578.6h2.4M599.07 596.4h2.4M601.89 576.44V594.31M600.69 576.44h2.4M600.69 594.31h2.4M603.51 599.93V617.07M602.31 599.93h2.4M602.31 617.07h2.4M605.13 585.1V602.7M603.93 585.1h2.4M603.93 602.7h2.4M606.75 575.33V593.23M605.55 575.33h2.4M605.55 593.23h2.4M608.37 586.52V604.08M607.17 586.52h2.4M607.17 604.08h2.4M609.99 572.81V590.79M608.79 572.81h2.4M608.79 590.79h2.4M611.61 584.39V602.01M610.41 584.39h2.4M610.41 602.01h2.4M613.23 573.52V591.48M612.03 573.52h2.4M612.03 591.48h2.4M614.85 586.1V603.67M613.65 586.1h2.4M613.65 603.67h2.4M616.47 575.23V593.14M615.27 575.23h2.4M615.27 593.14h2.4M618.09 563.47V581.73M616.89 563.47h2.4M616.89 581.73h2.4M619.71 583.68V601.32M618.51 583.68h2.4M618.51 601.32h2.4M621.33 579.42V597.2M620.13 579.42h2.4M620.13 597.2h2.4M622.95 568.95V587.05M621.75 568.95h2.4M621.75 587.05h2.4M624.57 582.18V599.88M623.37 582.18h2.4M623.37 599.88h2.4M626.19 586.71V604.27M624.99 586.71h2.4M624.99 604.27h2.4M627.81 584.96V602.57M626.61 584.96h2.4M626.61 602.57h2.4M629.43 589.87V607.33M628.23 589.87h2.4M628.23 607.33h2.4M631.05 560.33V578.67M629.85 560.33h2.4M629.85 578.67h2.4M632.67 582.17V599.87M631.47 582.17h2.4M631.47 599.87h2.4M634.29 574.74V592.66M633.09 574.74h2.4M633.09 592.66h2.4M635.91 593.73V611.07M634.71 593.73h2.4M634.71 611.07h2.4M637.53 582.72V600.4M636.33 582.72h2.4M636.33 600.4h2.4M639.15 577.18V595.02M637.95 577.18h2.4M637.95 595.02h2.4M640.77 586.68V604.24M639.57 586.68h2.4M639.57 604.24h2.4M642.39 592.31V609.69M641.19 592.31h2.4M641.19 609.69h2.4M644.01 579.31V597.09M642.81 579.31h2.4M642.81 597.09h2.4M645.63 593.13V610.49M644.43 593.13h2.4M644.43 610.49h2.4M647.25 581.44V599.16M646.05 581.44h2.4M646.05 599.16h2.4M648.87 593.73V611.07M647.67 593.73h2.4M647.67 611.07h2.4M650.49 586.13V603.7M649.29 586.13h2.4M649.29 603.7h2.4M652.11 593.73V611.07M650.91 593.73h2.4M650.91 611.07h2.4M653.73 568.24V586.36M652.53 568.24h2.4M652.53 586.36h2.4M655.35 580.73V598.47M654.15 580.73h2.4M654.15 598.47h2.4M656.97 581.97V599.68M655.77 581.97h2.4M655.77 599.68h2.4M658.59 576.77V594.63M657.39 576.77h2.4M657.39 594.63h2.4M660.21 588.5V606.01M659.01 588.5h2.4M659.01 606.01h2.4M661.83 596.27V613.53M660.63 596.27h2.4M660.63 613.53h2.4M663.45 583.21V600.87M662.25 583.21h2.4M662.25 600.87h2.4M665.07 593.53V610.88M663.87 593.53h2.4M663.87 610.88h2.4M666.69 585.5V603.1M665.49 585.5h2.4M665.49 603.1h2.4M668.31 594.62V611.94M667.11 594.62h2.4M667.11 611.94h2.4M669.93 596.27V613.53M668.73 596.27h2.4M668.73 613.53h2.4M671.55 597.35V614.58M670.35 597.35h2.4M670.35 614.58h2.4M673.17 587.23V604.77M671.97 587.23h2.4M671.97 604.77h2.4M674.79 586.91V604.46M673.59 586.91h2.4M673.59 604.46h2.4M676.41 601.65V618.75M675.21 601.65h2.4M675.21 618.75h2.4M678.03 610.29V627.11M676.83 610.29h2.4M676.83 627.11h2.4M679.65 588.91V606.4M678.45 588.91h2.4M678.45 606.4h2.4M681.27 600.94V618.06M680.07 600.94h2.4M680.07 618.06h2.4M682.89 606.63V623.57M681.69 606.63h2.4M681.69 623.57h2.4" stroke="#000" stroke-width="0.9" fill="none"/>
<g fill="#000"><circle cx="506.31" cy="523.4" r="2.5"/><circle cx="507.93" cy="533.3" r="2.5"/><circle cx="509.55" cy="512.1" r="2.5"/><circle cx="511.17" cy="537.6" r="2.5"/><circle cx="512.79" cy="534.7" r="2.5"/><circle cx="514.41" cy="530.67" r="2.5"/><circle cx="516.03" cy="536.34" r="2.5"/><circle cx="517.65" cy="524.1" r="2.5"/><circle cx="519.27" cy="548.9" r="2.5"/><circle cx="520.89" cy="510.6" r="2.5"/><circle cx="522.51" cy="529.1" r="2.5"/><circle cx="524.13" cy="568.1" r="2.5"/><circle cx="525.75" cy="537.6" r="2.5"/><circle cx="527.37" cy="534" r="2.5"/><circle cx="528.99" cy="556.7" r="2.5"/><circle cx="530.61" cy="546.65" r="2.5"/><circle cx="532.23" cy="541.5" r="2.5"/><circle cx="533.85" cy="556.7" r="2.5"/><circle cx="535.47" cy="544.71" r="2.5"/><circle cx="537.09" cy="549.9" r="2.5"/><circle cx="538.71" cy="567.8" r="2.5"/><circle cx="540.33" cy="563.8" r="2.5"/><circle cx="541.95" cy="573.4" r="2.5"/><circle cx="543.57" cy="573.7" r="2.5"/><circle cx="545.19" cy="551.8" r="2.5"/><circle cx="546.81" cy="561.76" r="2.5"/><circle cx="548.43" cy="553.2" r="2.5"/><circle cx="550.05" cy="557.9" r="2.5"/><circle cx="551.67" cy="559.61" r="2.5"/><circle cx="553.29" cy="556" r="2.5"/><circle cx="554.91" cy="558.32" r="2.5"/><circle cx="556.53" cy="557.82" r="2.5"/><circle cx="558.15" cy="562.4" r="2.5"/><circle cx="559.77" cy="567.74" r="2.5"/><circle cx="561.39" cy="573.95" r="2.5"/><circle cx="563.01" cy="569.65" r="2.5"/><circle cx="564.63" cy="567.2" r="2.5"/><circle cx="566.25" cy="567.75" r="2.5"/><circle cx="567.87" cy="588.9" r="2.5"/><circle cx="569.49" cy="558.1" r="2.5"/><circle cx="571.11" cy="576.6" r="2.5"/><circle cx="572.73" cy="568.1" r="2.5"/><circle cx="574.35" cy="588.6" r="2.5"/><circle cx="575.97" cy="586.5" r="2.5"/><circle cx="577.59" cy="580.8" r="2.5"/><circle cx="579.21" cy="569.92" r="2.5"/><circle cx="580.83" cy="568.83" r="2.5"/><circle cx="582.45" cy="570.5" r="2.5"/><circle cx="584.07" cy="572" r="2.5"/><circle cx="585.69" cy="592.9" r="2.5"/><circle cx="587.31" cy="581.11" r="2.5"/><circle cx="588.93" cy="581.8" r="2.5"/><circle cx="590.55" cy="570.5" r="2.5"/><circle cx="592.17" cy="591.8" r="2.5"/><circle cx="593.79" cy="590.7" r="2.5"/><circle cx="595.41" cy="591.8" r="2.5"/><circle cx="597.03" cy="573" r="2.5"/><circle cx="598.65" cy="591.73" r="2.5"/><circle cx="600.27" cy="587.5" r="2.5"/><circle cx="601.89" cy="585.37" r="2.5"/><circle cx="603.51" cy="608.5" r="2.5"/><circle cx="605.13" cy="593.9" r="2.5"/><circle cx="606.75" cy="584.28" r="2.5"/><circle cx="608.37" cy="595.3" r="2.5"/><circle cx="609.99" cy="581.8" r="2.5"/><circle cx="611.61" cy="593.2" r="2.5"/><circle cx="613.23" cy="582.5" r="2.5"/><circle cx="614.85" cy="594.89" r="2.5"/><circle cx="616.47" cy="584.19" r="2.5"/><circle cx="618.09" cy="572.6" r="2.5"/><circle cx="619.71" cy="592.5" r="2.5"/><circle cx="621.33" cy="588.31" r="2.5"/><circle cx="622.95" cy="578" r="2.5"/><circle cx="624.57" cy="591.03" r="2.5"/><circle cx="626.19" cy="595.49" r="2.5"/><circle cx="627.81" cy="593.76" r="2.5"/><circle cx="629.43" cy="598.6" r="2.5"/><circle cx="631.05" cy="569.5" r="2.5"/><circle cx="632.67" cy="591.02" r="2.5"/><circle cx="634.29" cy="583.7" r="2.5"/><circle cx="635.91" cy="602.4" r="2.5"/><circle cx="637.53" cy="591.56" r="2.5"/><circle cx="639.15" cy="586.1" r="2.5"/><circle cx="640.77" cy="595.46" r="2.5"/><circle cx="642.39" cy="601" r="2.5"/><circle cx="644.01" cy="588.2" r="2.5"/><circle cx="645.63" cy="601.81" r="2.5"/><circle cx="647.25" cy="590.3" r="2.5"/><circle cx="648.87" cy="602.4" r="2.5"/><circle cx="650.49" cy="594.91" r="2.5"/><circle cx="652.11" cy="602.4" r="2.5"/><circle cx="653.73" cy="577.3" r="2.5"/><circle cx="655.35" cy="589.6" r="2.5"/><circle cx="656.97" cy="590.83" r="2.5"/><circle cx="658.59" cy="585.7" r="2.5"/><circle cx="660.21" cy="597.26" r="2.5"/><circle cx="661.83" cy="604.9" r="2.5"/><circle cx="663.45" cy="592.04" r="2.5"/><circle cx="665.07" cy="602.21" r="2.5"/><circle cx="666.69" cy="594.3" r="2.5"/><circle cx="668.31" cy="603.28" r="2.5"/><circle cx="669.93" cy="604.9" r="2.5"/><circle cx="671.55" cy="605.96" r="2.5"/><circle cx="673.17" cy="596" r="2.5"/><circle cx="674.79" cy="595.68" r="2.5"/><circle cx="676.41" cy="610.2" r="2.5"/><circle cx="678.03" cy="618.7" r="2.5"/><circle cx="679.65" cy="597.65" r="2.5"/><circle cx="681.27" cy="609.5" r="2.5"/><circle cx="682.89" cy="615.1" r="2.5"/></g>
<clipPath id="c8"><rect x="505.5" y="456.2" width="178.2" height="181.1"/></clipPath>
<polyline clip-path="url(#c8)" points="505.5,517.35 508.74,522.93 511.98,527.94 515.22,532.45 518.46,536.54 521.7,540.26 524.94,543.66 528.18,546.78 531.42,549.66 534.66,552.32 537.9,554.8 541.14,557.11 544.38,559.28 547.62,561.31 550.86,563.24 554.1,565.06 557.34,566.78 560.58,568.43 563.82,569.99 567.06,571.49 570.3,572.93 573.54,574.31 576.78,575.63 580.02,576.91 583.26,578.14 586.5,579.32 589.74,580.47 592.98,581.58 596.22,582.65 599.46,583.69 602.7,584.7 605.94,585.67 609.18,586.62 612.42,587.54 615.66,588.43 618.9,589.3 622.14,590.14 625.38,590.96 628.62,591.75 631.86,592.52 635.1,593.27 638.34,594 641.58,594.72 644.82,595.41 648.06,596.08 651.3,596.73 654.54,597.37 657.78,597.99 661.02,598.59 664.26,599.18 667.5,599.75 670.74,600.3 673.98,600.84 677.22,601.37 680.46,601.88 683.7,602.38" fill="none" stroke="#0000ff" stroke-width="3.0"/>
<rect x="505.5" y="456.2" width="178.2" height="181.1" fill="none" stroke="#444" stroke-width="1.25"/>
<path d="M505.5 455.6V637.3M504.9 637.3H684.3" fill="none" stroke="#000" stroke-width="1.1"/>
<path d="M505.5 459.22h3.0M505.5 463.92h3.0M505.5 468.61h3.0M505.5 473.31h3.0M505.5 478h5.8M505.5 482.69h3.0M505.5 487.39h3.0M505.5 492.08h3.0M505.5 496.78h3.0M505.5 501.47h5.8M505.5 506.16h3.0M505.5 510.86h3.0M505.5 515.55h3.0M505.5 520.25h3.0M505.5 524.94h5.8M505.5 529.63h3.0M505.5 534.33h3.0M505.5 539.02h3.0M505.5 543.72h3.0M505.5 548.41h5.8M505.5 553.1h3.0M505.5 557.8h3.0M505.5 562.49h3.0M505.5 567.19h3.0M505.5 571.88h5.8M505.5 576.57h3.0M505.5 581.27h3.0M505.5 585.96h3.0M505.5 590.66h3.0M505.5 595.35h5.8M505.5 600.04h3.0M505.5 604.74h3.0M505.5 609.43h3.0M505.5 614.13h3.0M505.5 618.82h5.8M505.5 623.51h3.0M505.5 628.21h3.0M505.5 632.9h3.0M505.5 637.6h3.0M505.5 637.3v-5.0M513.6 637.3v-2.4M521.7 637.3v-2.4M529.8 637.3v-2.4M537.9 637.3v-5.0M546 637.3v-2.4M554.1 637.3v-2.4M562.2 637.3v-2.4M570.3 637.3v-5.0M578.4 637.3v-2.4M586.5 637.3v-2.4M594.6 637.3v-2.4M602.7 637.3v-5.0M610.8 637.3v-2.4M618.9 637.3v-2.4M627 637.3v-2.4M635.1 637.3v-5.0M643.2 637.3v-2.4M651.3 637.3v-2.4M659.4 637.3v-2.4M667.5 637.3v-5.0M675.6 637.3v-2.4M683.7 637.3v-2.4" stroke="#111" stroke-width="1.15" fill="none"/>
<g font-size="13.1" text-anchor="end">
<text x="504.4" y="482.7">1700</text>
<text x="504.4" y="506.17">1600</text>
<text x="504.4" y="529.64">1500</text>
<text x="504.4" y="553.11">1400</text>
<text x="504.4" y="576.58">1300</text>
<text x="504.4" y="600.05">1200</text>
<text x="504.4" y="623.52">1100</text>
</g>
<g font-size="13.1" text-anchor="middle">
<text x="505.5" y="648.35">0</text>
<text x="537.9" y="648.35">200</text>
<text x="570.3" y="648.35">400</text>
<text x="602.7" y="648.35">600</text>
<text x="635.1" y="648.35">800</text>
<text x="667.5" y="648.35">1000</text>
</g>
<text transform="translate(683.8 665.9) scale(1.046 1)" font-size="13.9" word-spacing="0.15" text-anchor="end">days after August 3, 2017 (days)</text>
<text transform="translate(472.6 455.6) rotate(-90)" font-size="12.85" text-anchor="end">Events / ( 10 days )</text>
<text x="675.5" y="479.3" font-size="15.8" text-anchor="end">detector 8 [1 - 6] keV</text>
<text x="675.3" y="498.6" font-size="15.9" text-anchor="end">/ndf: 109.21/107</text>
<text x="560.47" y="493.7" font-size="10.1" text-anchor="end">2</text>
<text transform="translate(554.27 500) scale(1.1 1)" font-size="14" text-anchor="end">χ</text>
<text x="676.8" y="517.5" font-size="15.8" text-anchor="end">=0.422]</text>
<text x="623.65" y="525.5" font-size="10.1" text-anchor="end">val</text>
<text x="610.74" y="517.5" font-size="15.8" text-anchor="end">[p</text>
</g>
</svg></body></html>
